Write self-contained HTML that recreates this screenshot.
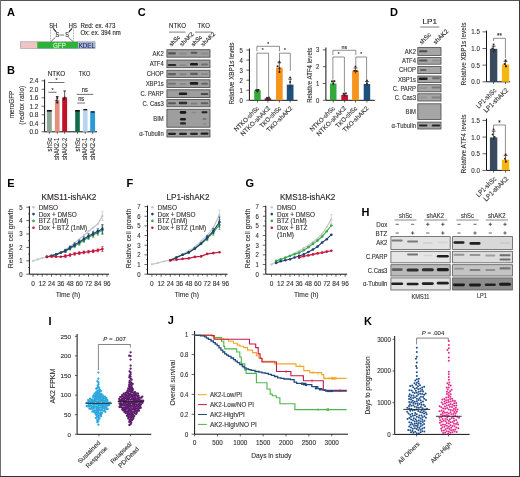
<!DOCTYPE html>
<html><head><meta charset="utf-8"><style>
html,body{margin:0;padding:0;background:#fff;}
svg{display:block;font-family:"Liberation Sans",sans-serif;filter:blur(0.45px);}
</style></head><body>
<svg width="520" height="477" viewBox="0 0 520 477" fill="#231f20">
<defs><filter id="bl" x="-50%" y="-100%" width="200%" height="300%"><feGaussianBlur stdDeviation="0.55"/></filter></defs>
<rect x="0" y="0" width="520" height="477" fill="#fff"/>
<text x="7" y="16" font-size="11" font-weight="bold" fill="#000">A</text>
<rect x="20.3" y="41.8" width="17" height="6.8" fill="#f0c4c2" />
<rect x="37.2" y="41.8" width="41" height="6.8" fill="#2fb23a" />
<rect x="78.1" y="41.8" width="17" height="6.8" fill="#a9b5d2" />
<rect x="20.3" y="41.8" width="74.8" height="6.8" fill="none" stroke="#8a8fa0" stroke-width="0.5"/>
<text x="59.4" y="47.6" font-size="6.6" text-anchor="middle" fill="#b4eea8" textLength="12.8" lengthAdjust="spacingAndGlyphs" stroke="#b4eea8" stroke-width="0.3">GFP</text>
<text x="86.8" y="47.6" font-size="6.6" text-anchor="middle" fill="#1f2f6b" textLength="16.2" lengthAdjust="spacingAndGlyphs" stroke="#1f2f6b" stroke-width="0.12">KDEL</text>
<text x="49.2" y="27.6" font-size="6.5" textLength="8.1" lengthAdjust="spacingAndGlyphs" stroke="#231f20" stroke-width="0.12">SH</text>
<text x="68.8" y="27.6" font-size="6.5" textLength="8.1" lengthAdjust="spacingAndGlyphs" stroke="#231f20" stroke-width="0.12">HS</text>
<text x="80.4" y="27.6" font-size="6.5" textLength="35" lengthAdjust="spacingAndGlyphs" stroke="#231f20" stroke-width="0.12">Red: ex. 473</text>
<text x="80.4" y="34.8" font-size="6.5" textLength="40.4" lengthAdjust="spacingAndGlyphs" stroke="#231f20" stroke-width="0.12">Ox: ex. 394 nm</text>
<line x1="50.6" y1="28.5" x2="50.6" y2="41.5" stroke="#333" stroke-width="0.5" stroke-dasharray="0.8 0.8"/>
<line x1="73.5" y1="28.5" x2="73.5" y2="41.5" stroke="#333" stroke-width="0.5" stroke-dasharray="0.8 0.8"/>
<text x="57.3" y="36.8" font-size="6.3" text-anchor="middle" textLength="3.7" lengthAdjust="spacingAndGlyphs" stroke="#231f20" stroke-width="0.12">S</text>
<text x="67" y="36.8" font-size="6.3" text-anchor="middle" textLength="3.7" lengthAdjust="spacingAndGlyphs" stroke="#231f20" stroke-width="0.12">S</text>
<line x1="53.2" y1="28.3" x2="56.2" y2="31.8" stroke="#231f20" stroke-width="1.1" />
<line x1="72" y1="28.3" x2="69" y2="31.8" stroke="#231f20" stroke-width="1.1" />
<line x1="59.5" y1="35" x2="64.2" y2="35" stroke="#231f20" stroke-width="0.6" />
<line x1="55.5" y1="37.2" x2="50.8" y2="41.8" stroke="#231f20" stroke-width="0.6" />
<line x1="68.3" y1="37.2" x2="73.3" y2="41.8" stroke="#231f20" stroke-width="0.6" />
<text x="6.9" y="73.8" font-size="11" font-weight="bold" fill="#000">B</text>
<text x="56.5" y="75.5" font-size="7" text-anchor="middle" textLength="17.5" lengthAdjust="spacingAndGlyphs" stroke="#231f20" stroke-width="0.12">NTKO</text>
<text x="84.6" y="75.5" font-size="7" text-anchor="middle" textLength="11.5" lengthAdjust="spacingAndGlyphs" stroke="#231f20" stroke-width="0.12">TKO</text>
<line x1="44.6" y1="79.5" x2="44.6" y2="131.8" stroke="#111" stroke-width="1.0" />
<line x1="44.6" y1="131.8" x2="97" y2="131.8" stroke="#111" stroke-width="1.0" />
<line x1="41.6" y1="131.8" x2="44.6" y2="131.8" stroke="#231f20" stroke-width="0.7" />
<text x="38.4" y="134.2" font-size="6.9" text-anchor="end" fill="#333" textLength="9" lengthAdjust="spacingAndGlyphs" stroke="#333" stroke-width="0.12">0.0</text>
<line x1="41.6" y1="123.3" x2="44.6" y2="123.3" stroke="#231f20" stroke-width="0.7" />
<text x="38.4" y="125.7" font-size="6.9" text-anchor="end" fill="#333" textLength="9" lengthAdjust="spacingAndGlyphs" stroke="#333" stroke-width="0.12">0.4</text>
<line x1="41.6" y1="114.8" x2="44.6" y2="114.8" stroke="#231f20" stroke-width="0.7" />
<text x="38.4" y="117.2" font-size="6.9" text-anchor="end" fill="#333" textLength="9" lengthAdjust="spacingAndGlyphs" stroke="#333" stroke-width="0.12">0.8</text>
<line x1="41.6" y1="106.3" x2="44.6" y2="106.3" stroke="#231f20" stroke-width="0.7" />
<text x="38.4" y="108.7" font-size="6.9" text-anchor="end" fill="#333" textLength="9" lengthAdjust="spacingAndGlyphs" stroke="#333" stroke-width="0.12">1.2</text>
<line x1="41.6" y1="97.8" x2="44.6" y2="97.8" stroke="#231f20" stroke-width="0.7" />
<text x="38.4" y="100.2" font-size="6.9" text-anchor="end" fill="#333" textLength="9" lengthAdjust="spacingAndGlyphs" stroke="#333" stroke-width="0.12">1.6</text>
<line x1="41.6" y1="89.3" x2="44.6" y2="89.3" stroke="#231f20" stroke-width="0.7" />
<text x="38.4" y="91.7" font-size="6.9" text-anchor="end" fill="#333" textLength="9" lengthAdjust="spacingAndGlyphs" stroke="#333" stroke-width="0.12">2.0</text>
<line x1="41.6" y1="80.8" x2="44.6" y2="80.8" stroke="#231f20" stroke-width="0.7" />
<text x="38.4" y="83.2" font-size="6.9" text-anchor="end" fill="#333" textLength="9" lengthAdjust="spacingAndGlyphs" stroke="#333" stroke-width="0.12">2.4</text>
<rect x="46.9" y="110.55" width="4.9" height="21.25" fill="#8fa596" />
<line x1="49.35" y1="131.8" x2="49.35" y2="133.8" stroke="#231f20" stroke-width="0.7" />
<rect x="54.9" y="99.93" width="4.7" height="31.88" fill="#e38f7e" />
<line x1="57.25" y1="131.8" x2="57.25" y2="133.8" stroke="#231f20" stroke-width="0.7" />
<rect x="62.2" y="97.38" width="4.9" height="34.43" fill="#c0122a" />
<line x1="64.65" y1="131.8" x2="64.65" y2="133.8" stroke="#231f20" stroke-width="0.7" />
<rect x="75.2" y="110.55" width="4.6" height="21.25" fill="#0f6b4b" />
<line x1="77.5" y1="131.8" x2="77.5" y2="133.8" stroke="#231f20" stroke-width="0.7" />
<rect x="82.9" y="109.7" width="4.7" height="22.1" fill="#b8d4ee" />
<line x1="85.25" y1="131.8" x2="85.25" y2="133.8" stroke="#231f20" stroke-width="0.7" />
<rect x="90.2" y="111.4" width="4.9" height="20.4" fill="#2c9ad6" />
<line x1="92.65" y1="131.8" x2="92.65" y2="133.8" stroke="#231f20" stroke-width="0.7" />
<rect x="46.9" y="110" width="4.9" height="1.6" fill="#111" />
<rect x="75.2" y="110" width="4.6" height="1.6" fill="#111" />
<rect x="83.4" y="109" width="3.8" height="1.3" fill="#111" />
<rect x="90.8" y="111.3" width="3.8" height="1.3" fill="#111" />
<line x1="57.25" y1="96.5" x2="57.25" y2="103.5" stroke="#111" stroke-width="0.7" />
<line x1="55.9" y1="96.5" x2="58.6" y2="96.5" stroke="#111" stroke-width="0.8" />
<circle cx="57.25" cy="98" r="1.1" fill="#222" />
<circle cx="57.25" cy="102.5" r="1.1" fill="#222" />
<circle cx="56.5" cy="100.3" r="0.9" fill="#222" />
<line x1="64.65" y1="91" x2="64.65" y2="98.5" stroke="#111" stroke-width="0.7" />
<line x1="63.3" y1="91" x2="66" y2="91" stroke="#111" stroke-width="0.8" />
<circle cx="64.65" cy="97.5" r="1" fill="#222" />
<circle cx="63.8" cy="99.5" r="0.9" fill="#222" />
<line x1="48.2" y1="82.5" x2="64.5" y2="82.5" stroke="#333" stroke-width="0.7" />
<text x="56.4" y="82.2" font-size="6" text-anchor="middle" textLength="2.05" lengthAdjust="spacingAndGlyphs" stroke="#231f20" stroke-width="0.12">*</text>
<line x1="48.4" y1="92.3" x2="56.5" y2="92.3" stroke="#333" stroke-width="0.7" />
<text x="52.4" y="91.6" font-size="6" text-anchor="middle" textLength="2.05" lengthAdjust="spacingAndGlyphs" stroke="#231f20" stroke-width="0.12">*</text>
<line x1="76.7" y1="94.4" x2="93.3" y2="94.4" stroke="#333" stroke-width="0.7" />
<text x="84.8" y="92.3" font-size="6.5" text-anchor="middle" textLength="6.04" lengthAdjust="spacingAndGlyphs" stroke="#231f20" stroke-width="0.12">ns</text>
<line x1="77.2" y1="103" x2="85" y2="103" stroke="#333" stroke-width="0.7" />
<text x="81.2" y="101.2" font-size="6.5" text-anchor="middle" textLength="6.04" lengthAdjust="spacingAndGlyphs" stroke="#231f20" stroke-width="0.12">ns</text>
<text x="14.2" y="104.5" font-size="6.6" text-anchor="middle" fill="#333" transform="rotate(-90 14.2 104.5)" textLength="27.7" lengthAdjust="spacingAndGlyphs" stroke="#333" stroke-width="0.12">meroGFP</text>
<text x="23.7" y="105.2" font-size="6.6" text-anchor="middle" fill="#333" transform="rotate(-90 23.7 105.2)" textLength="38.9" lengthAdjust="spacingAndGlyphs" stroke="#333" stroke-width="0.12">(red/ox ratio)</text>
<text x="51.6" y="137.8" font-size="6.6" text-anchor="end" fill="#333" transform="rotate(-90 51.6 137.8)" textLength="13.6" lengthAdjust="spacingAndGlyphs" stroke="#333" stroke-width="0.12">shSc</text>
<text x="59.5" y="137.8" font-size="6.6" text-anchor="end" fill="#333" transform="rotate(-90 59.5 137.8)" textLength="22.2" lengthAdjust="spacingAndGlyphs" stroke="#333" stroke-width="0.12">shAK2-1</text>
<text x="67" y="137.8" font-size="6.6" text-anchor="end" fill="#333" transform="rotate(-90 67 137.8)" textLength="22.2" lengthAdjust="spacingAndGlyphs" stroke="#333" stroke-width="0.12">shAK2-2</text>
<text x="79.8" y="137.8" font-size="6.6" text-anchor="end" fill="#333" transform="rotate(-90 79.8 137.8)" textLength="13.6" lengthAdjust="spacingAndGlyphs" stroke="#333" stroke-width="0.12">shSc</text>
<text x="87.5" y="137.8" font-size="6.6" text-anchor="end" fill="#333" transform="rotate(-90 87.5 137.8)" textLength="22.2" lengthAdjust="spacingAndGlyphs" stroke="#333" stroke-width="0.12">shAK2-1</text>
<text x="94.9" y="137.8" font-size="6.6" text-anchor="end" fill="#333" transform="rotate(-90 94.9 137.8)" textLength="22.2" lengthAdjust="spacingAndGlyphs" stroke="#333" stroke-width="0.12">shAK2-2</text>
<text x="137.8" y="15.6" font-size="11" font-weight="bold" fill="#000">C</text>
<text x="169" y="27.6" font-size="6.8" textLength="17" lengthAdjust="spacingAndGlyphs" stroke="#231f20" stroke-width="0.12">NTKO</text>
<text x="197.5" y="27.6" font-size="6.8" textLength="12.3" lengthAdjust="spacingAndGlyphs" stroke="#231f20" stroke-width="0.12">TKO</text>
<line x1="169" y1="32.1" x2="185.6" y2="32.1" stroke="#8a8a8a" stroke-width="1.1" />
<line x1="195.2" y1="32.1" x2="211.9" y2="32.1" stroke="#8a8a8a" stroke-width="1.1" />
<text x="171.5" y="46.7" font-size="6.0" transform="rotate(-45 171.5 46.7)" textLength="12.88" lengthAdjust="spacingAndGlyphs" stroke="#231f20" stroke-width="0.12">shSc</text>
<text x="181.9" y="46.7" font-size="6.0" transform="rotate(-45 181.9 46.7)" textLength="17.39" lengthAdjust="spacingAndGlyphs" stroke="#231f20" stroke-width="0.12">shAK2</text>
<text x="193.5" y="46.7" font-size="6.0" transform="rotate(-45 193.5 46.7)" textLength="12.88" lengthAdjust="spacingAndGlyphs" stroke="#231f20" stroke-width="0.12">shSc</text>
<text x="203.3" y="46.7" font-size="6.0" transform="rotate(-45 203.3 46.7)" textLength="17.39" lengthAdjust="spacingAndGlyphs" stroke="#231f20" stroke-width="0.12">shAK2</text>
<rect x="166.9" y="49.7" width="43.1" height="7.5" fill="#9e9e9e" stroke="#444" stroke-width="0.8"/>
<rect x="168" y="52.2" width="8" height="2.2" rx="1.1" fill="#151515" opacity="0.55" filter="url(#bl)"/>
<rect x="179" y="52.5" width="8" height="2" rx="1" fill="#151515" opacity="0.15" filter="url(#bl)"/>
<rect x="190.5" y="51.7" width="7" height="2.2" rx="1.1" fill="#151515" opacity="0.45" filter="url(#bl)"/>
<rect x="200.5" y="52.5" width="8" height="2" rx="1" fill="#151515" opacity="0.12" filter="url(#bl)"/>
<text x="163.7" y="55.85" font-size="6.7" text-anchor="end" fill="#333" textLength="11.14" lengthAdjust="spacingAndGlyphs" stroke="#333" stroke-width="0.12">AK2</text>
<rect x="166.9" y="60" width="43.1" height="7.7" fill="#9e9e9e" stroke="#444" stroke-width="0.8"/>
<rect x="167.75" y="63.9" width="8.5" height="2.2" rx="1.1" fill="#151515" opacity="0.85" filter="url(#bl)"/>
<rect x="179.5" y="64.3" width="7" height="1.8" rx="0.9" fill="#151515" opacity="0.15" filter="url(#bl)"/>
<rect x="190" y="63.1" width="8" height="2.4" rx="1.2" fill="#151515" opacity="0.95" filter="url(#bl)"/>
<rect x="201" y="63.6" width="7" height="2" rx="1" fill="#151515" opacity="0.35" filter="url(#bl)"/>
<text x="163.7" y="66.25" font-size="6.7" text-anchor="end" fill="#333" textLength="13.98" lengthAdjust="spacingAndGlyphs" stroke="#333" stroke-width="0.12">ATF4</text>
<rect x="166.9" y="70.2" width="43.1" height="7.2" fill="#9e9e9e" stroke="#444" stroke-width="0.8"/>
<rect x="168" y="73.1" width="8" height="2.2" rx="1.1" fill="#151515" opacity="0.45" filter="url(#bl)"/>
<rect x="179.5" y="73.2" width="7" height="2" rx="1" fill="#151515" opacity="0.2" filter="url(#bl)"/>
<rect x="190" y="72.7" width="8" height="2.2" rx="1.1" fill="#151515" opacity="0.45" filter="url(#bl)"/>
<rect x="201" y="73" width="7" height="2" rx="1" fill="#151515" opacity="0.15" filter="url(#bl)"/>
<text x="163.7" y="76.2" font-size="6.7" text-anchor="end" fill="#333" textLength="17.03" lengthAdjust="spacingAndGlyphs" stroke="#333" stroke-width="0.12">CHOP</text>
<rect x="166.9" y="79.8" width="43.1" height="7.6" fill="#9e9e9e" stroke="#444" stroke-width="0.8"/>
<rect x="168" y="82.8" width="8" height="2" rx="1" fill="#151515" opacity="0.3" filter="url(#bl)"/>
<rect x="179.5" y="83" width="7" height="2" rx="1" fill="#151515" opacity="0.15" filter="url(#bl)"/>
<rect x="189.75" y="82.1" width="8.5" height="2.6" rx="1.3" fill="#151515" opacity="0.95" filter="url(#bl)"/>
<rect x="201" y="82.8" width="7" height="2" rx="1" fill="#151515" opacity="0.4" filter="url(#bl)"/>
<text x="163.7" y="86" font-size="6.7" text-anchor="end" fill="#333" textLength="18.02" lengthAdjust="spacingAndGlyphs" stroke="#333" stroke-width="0.12">XBP1s</text>
<rect x="166.9" y="89.8" width="43.1" height="7.8" fill="#9e9e9e" stroke="#444" stroke-width="0.8"/>
<rect x="178.75" y="92.6" width="8.5" height="2.4" rx="1.2" fill="#151515" opacity="0.95" filter="url(#bl)"/>
<rect x="200.75" y="93.1" width="7.5" height="1.8" rx="0.9" fill="#151515" opacity="0.6" filter="url(#bl)"/>
<text x="163.7" y="96.1" font-size="6.7" text-anchor="end" fill="#333" textLength="23.15" lengthAdjust="spacingAndGlyphs" stroke="#333" stroke-width="0.12">C. PARP</text>
<rect x="166.9" y="99.6" width="43.1" height="7.2" fill="#9e9e9e" stroke="#444" stroke-width="0.8"/>
<rect x="168" y="102.2" width="8" height="2" rx="1" fill="#151515" opacity="0.5" filter="url(#bl)"/>
<rect x="178.75" y="101.8" width="8.5" height="2.4" rx="1.2" fill="#151515" opacity="0.8" filter="url(#bl)"/>
<rect x="190.5" y="102.7" width="7" height="1.8" rx="0.9" fill="#151515" opacity="0.25" filter="url(#bl)"/>
<rect x="200.75" y="102.2" width="7.5" height="2" rx="1" fill="#151515" opacity="0.45" filter="url(#bl)"/>
<text x="163.7" y="105.6" font-size="6.7" text-anchor="end" fill="#333" textLength="21.3" lengthAdjust="spacingAndGlyphs" stroke="#333" stroke-width="0.12">C. Cas3</text>
<rect x="166.9" y="109.2" width="43.1" height="18" fill="#9e9e9e" stroke="#444" stroke-width="0.8"/>
<rect x="179.75" y="111.1" width="6.5" height="2.6" rx="1.3" fill="#151515" opacity="1.0" filter="url(#bl)"/>
<rect x="180" y="118" width="6" height="2.4" rx="1.2" fill="#151515" opacity="0.95" filter="url(#bl)"/>
<rect x="180" y="122.3" width="6" height="2.2" rx="1.1" fill="#151515" opacity="0.9" filter="url(#bl)"/>
<rect x="191.5" y="111.85" width="5" height="1.5" rx="0.75" fill="#151515" opacity="0.15" filter="url(#bl)"/>
<rect x="201.5" y="111.3" width="6" height="2" rx="1" fill="#151515" opacity="0.9" filter="url(#bl)"/>
<rect x="202.5" y="118.25" width="4" height="1.5" rx="0.75" fill="#151515" opacity="0.35" filter="url(#bl)"/>
<rect x="202.5" y="123.4" width="4" height="1.2" rx="0.6" fill="#151515" opacity="0.2" filter="url(#bl)"/>
<text x="163.7" y="120.6" font-size="6.7" text-anchor="end" fill="#333" textLength="10.48" lengthAdjust="spacingAndGlyphs" stroke="#333" stroke-width="0.12">BIM</text>
<rect x="166.9" y="129.8" width="43.1" height="7.2" fill="#9e9e9e" stroke="#444" stroke-width="0.8"/>
<rect x="168" y="132.7" width="8" height="2.2" rx="1.1" fill="#151515" opacity="0.9" filter="url(#bl)"/>
<rect x="179" y="132.7" width="8" height="2.2" rx="1.1" fill="#151515" opacity="0.9" filter="url(#bl)"/>
<rect x="190" y="132.7" width="8" height="2.2" rx="1.1" fill="#151515" opacity="0.85" filter="url(#bl)"/>
<rect x="200.5" y="132.4" width="8" height="2.4" rx="1.2" fill="#151515" opacity="0.9" filter="url(#bl)"/>
<text x="163.7" y="135.8" font-size="6.7" text-anchor="end" fill="#333" textLength="24.49" lengthAdjust="spacingAndGlyphs" stroke="#333" stroke-width="0.12">α-Tubulin</text>
<line x1="249.4" y1="48.5" x2="249.4" y2="100.3" stroke="#111" stroke-width="1.0" />
<line x1="249.4" y1="100.3" x2="297.5" y2="100.3" stroke="#111" stroke-width="1.0" />
<line x1="246.4" y1="100.3" x2="249.4" y2="100.3" stroke="#231f20" stroke-width="0.7" />
<text x="242.8" y="102.75" font-size="6.8" text-anchor="end" fill="#333" textLength="3.33" lengthAdjust="spacingAndGlyphs" stroke="#333" stroke-width="0.12">0</text>
<line x1="246.4" y1="90.25" x2="249.4" y2="90.25" stroke="#231f20" stroke-width="0.7" />
<text x="242.8" y="92.7" font-size="6.8" text-anchor="end" fill="#333" textLength="3.33" lengthAdjust="spacingAndGlyphs" stroke="#333" stroke-width="0.12">1</text>
<line x1="246.4" y1="80.2" x2="249.4" y2="80.2" stroke="#231f20" stroke-width="0.7" />
<text x="242.8" y="82.65" font-size="6.8" text-anchor="end" fill="#333" textLength="3.33" lengthAdjust="spacingAndGlyphs" stroke="#333" stroke-width="0.12">2</text>
<line x1="246.4" y1="70.15" x2="249.4" y2="70.15" stroke="#231f20" stroke-width="0.7" />
<text x="242.8" y="72.6" font-size="6.8" text-anchor="end" fill="#333" textLength="3.33" lengthAdjust="spacingAndGlyphs" stroke="#333" stroke-width="0.12">3</text>
<line x1="246.4" y1="60.1" x2="249.4" y2="60.1" stroke="#231f20" stroke-width="0.7" />
<text x="242.8" y="62.55" font-size="6.8" text-anchor="end" fill="#333" textLength="3.33" lengthAdjust="spacingAndGlyphs" stroke="#333" stroke-width="0.12">4</text>
<line x1="246.4" y1="50.05" x2="249.4" y2="50.05" stroke="#231f20" stroke-width="0.7" />
<text x="242.8" y="52.5" font-size="6.8" text-anchor="end" fill="#333" textLength="3.33" lengthAdjust="spacingAndGlyphs" stroke="#333" stroke-width="0.12">5</text>
<rect x="254.2" y="90.25" width="6.5" height="10.05" fill="#35a83a" />
<line x1="257.45" y1="100.3" x2="257.45" y2="102.5" stroke="#231f20" stroke-width="0.7" />
<rect x="264.7" y="98.29" width="6.5" height="2.01" fill="#6e1b2c" />
<line x1="267.95" y1="100.3" x2="267.95" y2="102.5" stroke="#231f20" stroke-width="0.7" />
<rect x="276" y="67.64" width="6.7" height="32.66" fill="#f7941d" />
<line x1="279.35" y1="100.3" x2="279.35" y2="102.5" stroke="#231f20" stroke-width="0.7" />
<rect x="286.8" y="84.62" width="6.7" height="15.68" fill="#1f4f7d" />
<line x1="290.15" y1="100.3" x2="290.15" y2="102.5" stroke="#231f20" stroke-width="0.7" />
<text x="234.24" y="73.5" font-size="6.6" text-anchor="middle" fill="#333" transform="rotate(-90 234.24 73.5)" textLength="62" lengthAdjust="spacingAndGlyphs" stroke="#333" stroke-width="0.12">Relative XBP1s levels</text>
<text x="259.5" y="108.8" font-size="6.3" text-anchor="end" fill="#333" transform="rotate(-45 259.5 108.8)" textLength="32.5" lengthAdjust="spacingAndGlyphs" stroke="#333" stroke-width="0.12">NTKO-shSc</text>
<text x="270.6" y="108.8" font-size="6.3" text-anchor="end" fill="#333" transform="rotate(-45 270.6 108.8)" textLength="39" lengthAdjust="spacingAndGlyphs" stroke="#333" stroke-width="0.12">NTKO-shAK2</text>
<text x="281.6" y="108.8" font-size="6.3" text-anchor="end" fill="#333" transform="rotate(-45 281.6 108.8)" textLength="27.5" lengthAdjust="spacingAndGlyphs" stroke="#333" stroke-width="0.12">TKO-shSc</text>
<text x="292.8" y="108.8" font-size="6.3" text-anchor="end" fill="#333" transform="rotate(-45 292.8 108.8)" textLength="33.5" lengthAdjust="spacingAndGlyphs" stroke="#333" stroke-width="0.12">TKO-shAK2</text>
<line x1="257.45" y1="89.4" x2="257.45" y2="92.2" stroke="#222" stroke-width="0.7" />
<line x1="255.55" y1="89.6" x2="259.35" y2="89.6" stroke="#222" stroke-width="0.8" />
<circle cx="256.25" cy="90.3" r="1" fill="#2a2a2a" />
<circle cx="258.45" cy="90" r="1" fill="#2a2a2a" />
<circle cx="257.45" cy="91.6" r="1" fill="#2a2a2a" />
<line x1="267.95" y1="97.2" x2="267.95" y2="99.5" stroke="#222" stroke-width="0.7" />
<line x1="266.05" y1="97.4" x2="269.85" y2="97.4" stroke="#222" stroke-width="0.8" />
<circle cx="267.15" cy="97.9" r="1" fill="#2a2a2a" />
<circle cx="268.95" cy="97.6" r="1" fill="#2a2a2a" />
<line x1="279.35" y1="62.6" x2="279.35" y2="72.8" stroke="#222" stroke-width="0.7" />
<line x1="277.45" y1="62.8" x2="281.25" y2="62.8" stroke="#222" stroke-width="0.8" />
<circle cx="279.35" cy="61.8" r="1" fill="#3a1010" />
<circle cx="277.55" cy="66.3" r="1" fill="#3a1010" />
<circle cx="279.55" cy="68.2" r="1" fill="#3a1010" />
<circle cx="279.45" cy="72" r="1" fill="#3a1010" />
<line x1="290.15" y1="78.9" x2="290.15" y2="88.5" stroke="#222" stroke-width="0.7" />
<line x1="288.25" y1="79.1" x2="292.05" y2="79.1" stroke="#222" stroke-width="0.8" />
<circle cx="290.15" cy="77.6" r="1" fill="#2a2a2a" />
<circle cx="290.15" cy="82" r="1" fill="#2a2a2a" />
<path d="M256.9 51.3 V46.3 H279.5 V51.3" fill="none" stroke="#444" stroke-width="0.6" />
<text x="268.2" y="45.6" font-size="5.5" text-anchor="middle" textLength="1.88" lengthAdjust="spacingAndGlyphs" stroke="#231f20" stroke-width="0.12">*</text>
<path d="M256.9 89 V53.2 H268.6 V96.5" fill="none" stroke="#444" stroke-width="0.6" />
<text x="262.7" y="52.4" font-size="5.5" text-anchor="middle" textLength="1.88" lengthAdjust="spacingAndGlyphs" stroke="#231f20" stroke-width="0.12">*</text>
<path d="M279.5 61.2 V53.2 H290.3 V70.8" fill="none" stroke="#444" stroke-width="0.6" />
<text x="285" y="52.4" font-size="5.5" text-anchor="middle" textLength="1.88" lengthAdjust="spacingAndGlyphs" stroke="#231f20" stroke-width="0.12">*</text>
<line x1="325.9" y1="47.5" x2="325.9" y2="100.3" stroke="#111" stroke-width="1.0" />
<line x1="325.9" y1="100.3" x2="374.8" y2="100.3" stroke="#111" stroke-width="1.0" />
<line x1="322.9" y1="100.3" x2="325.9" y2="100.3" stroke="#231f20" stroke-width="0.7" />
<text x="319.3" y="102.75" font-size="6.8" text-anchor="end" fill="#333" textLength="3.33" lengthAdjust="spacingAndGlyphs" stroke="#333" stroke-width="0.12">0</text>
<line x1="322.9" y1="83.5" x2="325.9" y2="83.5" stroke="#231f20" stroke-width="0.7" />
<text x="319.3" y="85.95" font-size="6.8" text-anchor="end" fill="#333" textLength="3.33" lengthAdjust="spacingAndGlyphs" stroke="#333" stroke-width="0.12">1</text>
<line x1="322.9" y1="66.7" x2="325.9" y2="66.7" stroke="#231f20" stroke-width="0.7" />
<text x="319.3" y="69.15" font-size="6.8" text-anchor="end" fill="#333" textLength="3.33" lengthAdjust="spacingAndGlyphs" stroke="#333" stroke-width="0.12">2</text>
<line x1="322.9" y1="49.9" x2="325.9" y2="49.9" stroke="#231f20" stroke-width="0.7" />
<text x="319.3" y="52.35" font-size="6.8" text-anchor="end" fill="#333" textLength="3.33" lengthAdjust="spacingAndGlyphs" stroke="#333" stroke-width="0.12">3</text>
<rect x="330" y="83.5" width="6.5" height="16.8" fill="#35a83a" />
<line x1="333.25" y1="100.3" x2="333.25" y2="102.5" stroke="#231f20" stroke-width="0.7" />
<rect x="341.3" y="94.92" width="6.7" height="5.38" fill="#c0152f" />
<line x1="344.65" y1="100.3" x2="344.65" y2="102.5" stroke="#231f20" stroke-width="0.7" />
<rect x="352.1" y="70.73" width="6.8" height="29.57" fill="#f7941d" />
<line x1="355.5" y1="100.3" x2="355.5" y2="102.5" stroke="#231f20" stroke-width="0.7" />
<rect x="363.7" y="84" width="6.5" height="16.3" fill="#1f4f7d" />
<line x1="366.95" y1="100.3" x2="366.95" y2="102.5" stroke="#231f20" stroke-width="0.7" />
<text x="311.74" y="75.3" font-size="6.6" text-anchor="middle" fill="#333" transform="rotate(-90 311.74 75.3)" textLength="55" lengthAdjust="spacingAndGlyphs" stroke="#333" stroke-width="0.12">Relative ATF4 levels</text>
<text x="335.3" y="108.8" font-size="6.3" text-anchor="end" fill="#333" transform="rotate(-45 335.3 108.8)" textLength="32.5" lengthAdjust="spacingAndGlyphs" stroke="#333" stroke-width="0.12">NTKO-shSc</text>
<text x="346.6" y="108.8" font-size="6.3" text-anchor="end" fill="#333" transform="rotate(-45 346.6 108.8)" textLength="39" lengthAdjust="spacingAndGlyphs" stroke="#333" stroke-width="0.12">NTKO-shAK2</text>
<text x="357.5" y="108.8" font-size="6.3" text-anchor="end" fill="#333" transform="rotate(-45 357.5 108.8)" textLength="27.5" lengthAdjust="spacingAndGlyphs" stroke="#333" stroke-width="0.12">TKO-shSc</text>
<text x="368.9" y="108.8" font-size="6.3" text-anchor="end" fill="#333" transform="rotate(-45 368.9 108.8)" textLength="33.5" lengthAdjust="spacingAndGlyphs" stroke="#333" stroke-width="0.12">TKO-shAK2</text>
<line x1="333.25" y1="80.8" x2="333.25" y2="85.5" stroke="#222" stroke-width="0.7" />
<line x1="331.35" y1="81" x2="335.15" y2="81" stroke="#222" stroke-width="0.8" />
<circle cx="331.95" cy="81.6" r="1" fill="#2a2a2a" />
<circle cx="334.45" cy="81.3" r="1" fill="#2a2a2a" />
<circle cx="333.25" cy="83.6" r="1" fill="#2a2a2a" />
<line x1="344.65" y1="93" x2="344.65" y2="96.5" stroke="#222" stroke-width="0.7" />
<line x1="342.75" y1="93.2" x2="346.55" y2="93.2" stroke="#222" stroke-width="0.8" />
<circle cx="343.65" cy="94" r="1" fill="#2a2a2a" />
<circle cx="345.85" cy="93.6" r="1" fill="#2a2a2a" />
<circle cx="344.65" cy="95.6" r="1" fill="#2a2a2a" />
<line x1="355.5" y1="67.8" x2="355.5" y2="73.5" stroke="#222" stroke-width="0.7" />
<line x1="353.6" y1="68" x2="357.4" y2="68" stroke="#222" stroke-width="0.8" />
<circle cx="355.5" cy="66.6" r="1" fill="#3a1010" />
<circle cx="354.3" cy="70.8" r="1" fill="#3a1010" />
<circle cx="356.8" cy="71" r="1" fill="#3a1010" />
<line x1="366.95" y1="81.4" x2="366.95" y2="86" stroke="#222" stroke-width="0.7" />
<line x1="365.05" y1="81.6" x2="368.85" y2="81.6" stroke="#222" stroke-width="0.8" />
<circle cx="366.95" cy="80.6" r="1" fill="#2a2a2a" />
<circle cx="366.95" cy="83.4" r="1" fill="#2a2a2a" />
<path d="M332.9 55 V50.3 H355.8 V55" fill="none" stroke="#444" stroke-width="0.6" />
<text x="344.4" y="48.5" font-size="6" text-anchor="middle" textLength="5.58" lengthAdjust="spacingAndGlyphs" stroke="#231f20" stroke-width="0.12">ns</text>
<path d="M332.9 79.5 V57 H344.4 V92" fill="none" stroke="#444" stroke-width="0.6" />
<text x="338.7" y="56.3" font-size="5.5" text-anchor="middle" textLength="1.88" lengthAdjust="spacingAndGlyphs" stroke="#231f20" stroke-width="0.12">*</text>
<path d="M355.8 65.5 V57 H366.6 V79.5" fill="none" stroke="#444" stroke-width="0.6" />
<text x="361.2" y="56.3" font-size="5.5" text-anchor="middle" textLength="1.88" lengthAdjust="spacingAndGlyphs" stroke="#231f20" stroke-width="0.12">*</text>
<text x="390.1" y="15.8" font-size="11" font-weight="bold" fill="#000">D</text>
<text x="429.7" y="24.4" font-size="7.5" text-anchor="middle" textLength="14.6" lengthAdjust="spacingAndGlyphs" stroke="#231f20" stroke-width="0.12">LP1</text>
<line x1="420.2" y1="27" x2="439.3" y2="27" stroke="#8a8a8a" stroke-width="1.1" />
<text x="421.7" y="44.8" font-size="6.3" transform="rotate(-45 421.7 44.8)" textLength="13.7" lengthAdjust="spacingAndGlyphs" stroke="#231f20" stroke-width="0.12">shSc</text>
<text x="435.6" y="44.8" font-size="6.3" transform="rotate(-45 435.6 44.8)" textLength="18.5" lengthAdjust="spacingAndGlyphs" stroke="#231f20" stroke-width="0.12">shAK2</text>
<rect x="417.8" y="47.6" width="23.2" height="7.8" fill="#a6a6a6" stroke="#4a4a4a" stroke-width="0.8"/>
<rect x="418.95" y="50.2" width="8.5" height="2" rx="1" fill="#151515" opacity="0.6" filter="url(#bl)"/>
<text x="416" y="53.9" font-size="6.7" text-anchor="end" fill="#333" textLength="11.14" lengthAdjust="spacingAndGlyphs" stroke="#333" stroke-width="0.12">AK2</text>
<rect x="417.8" y="57.6" width="23.2" height="6.6" fill="#a6a6a6" stroke="#4a4a4a" stroke-width="0.8"/>
<rect x="418.95" y="59.6" width="8.5" height="1.8" rx="0.9" fill="#151515" opacity="0.55" filter="url(#bl)"/>
<rect x="432" y="59.8" width="8" height="1.6" rx="0.8" fill="#151515" opacity="0.15" filter="url(#bl)"/>
<text x="416" y="63.3" font-size="6.7" text-anchor="end" fill="#333" textLength="13.98" lengthAdjust="spacingAndGlyphs" stroke="#333" stroke-width="0.12">ATF4</text>
<rect x="417.8" y="66.4" width="23.2" height="7.2" fill="#a6a6a6" stroke="#4a4a4a" stroke-width="0.8"/>
<rect x="419.95" y="69.1" width="6.5" height="1.8" rx="0.9" fill="#151515" opacity="0.45" filter="url(#bl)"/>
<text x="416" y="72.4" font-size="6.7" text-anchor="end" fill="#333" textLength="17.03" lengthAdjust="spacingAndGlyphs" stroke="#333" stroke-width="0.12">CHOP</text>
<rect x="417.8" y="76" width="23.2" height="6.6" fill="#a6a6a6" stroke="#4a4a4a" stroke-width="0.8"/>
<rect x="418.7" y="77.4" width="9" height="2.6" rx="1.3" fill="#151515" opacity="0.95" filter="url(#bl)"/>
<rect x="432" y="77.3" width="8" height="2" rx="1" fill="#151515" opacity="0.4" filter="url(#bl)"/>
<text x="416" y="81.7" font-size="6.7" text-anchor="end" fill="#333" textLength="18.02" lengthAdjust="spacingAndGlyphs" stroke="#333" stroke-width="0.12">XBP1s</text>
<rect x="417.8" y="84.7" width="23.2" height="7.1" fill="#a6a6a6" stroke="#4a4a4a" stroke-width="0.8"/>
<rect x="419.2" y="87.2" width="8" height="1.6" rx="0.8" fill="#151515" opacity="0.12" filter="url(#bl)"/>
<rect x="431.5" y="86.6" width="9" height="2" rx="1" fill="#151515" opacity="0.3" filter="url(#bl)"/>
<text x="416" y="90.65" font-size="6.7" text-anchor="end" fill="#333" textLength="23.15" lengthAdjust="spacingAndGlyphs" stroke="#333" stroke-width="0.12">C. PARP</text>
<rect x="417.8" y="93.8" width="23.2" height="7.2" fill="#a6a6a6" stroke="#4a4a4a" stroke-width="0.8"/>
<rect x="419.2" y="96.4" width="8" height="1.8" rx="0.9" fill="#151515" opacity="0.12" filter="url(#bl)"/>
<rect x="431.5" y="96.5" width="9" height="2" rx="1" fill="#151515" opacity="0.25" filter="url(#bl)"/>
<text x="416" y="99.8" font-size="6.7" text-anchor="end" fill="#333" textLength="21.3" lengthAdjust="spacingAndGlyphs" stroke="#333" stroke-width="0.12">C. Cas3</text>
<rect x="417.8" y="103.8" width="23.2" height="15.6" fill="#a6a6a6" stroke="#4a4a4a" stroke-width="0.8"/>
<text x="416" y="114" font-size="6.7" text-anchor="end" fill="#333" textLength="10.48" lengthAdjust="spacingAndGlyphs" stroke="#333" stroke-width="0.12">BIM</text>
<rect x="417.8" y="122.1" width="23.2" height="6.9" fill="#a6a6a6" stroke="#4a4a4a" stroke-width="0.8"/>
<rect x="418.95" y="124.4" width="8.5" height="2.2" rx="1.1" fill="#151515" opacity="0.9" filter="url(#bl)"/>
<rect x="431.75" y="124.4" width="8.5" height="2.2" rx="1.1" fill="#151515" opacity="0.9" filter="url(#bl)"/>
<text x="416" y="127.95" font-size="6.7" text-anchor="end" fill="#333" textLength="24.49" lengthAdjust="spacingAndGlyphs" stroke="#333" stroke-width="0.12">α-Tubulin</text>
<line x1="486.5" y1="30.5" x2="486.5" y2="81.8" stroke="#111" stroke-width="1.0" />
<line x1="486.5" y1="81.8" x2="510" y2="81.8" stroke="#111" stroke-width="1.0" />
<line x1="482.5" y1="81.8" x2="486.5" y2="81.8" stroke="#231f20" stroke-width="0.7" />
<text x="479.9" y="84.32" font-size="7.0" text-anchor="end" fill="#333" textLength="8.56" lengthAdjust="spacingAndGlyphs" stroke="#333" stroke-width="0.12">0.0</text>
<line x1="482.5" y1="65.15" x2="486.5" y2="65.15" stroke="#231f20" stroke-width="0.7" />
<text x="479.9" y="67.67" font-size="7.0" text-anchor="end" fill="#333" textLength="8.56" lengthAdjust="spacingAndGlyphs" stroke="#333" stroke-width="0.12">0.5</text>
<line x1="482.5" y1="48.5" x2="486.5" y2="48.5" stroke="#231f20" stroke-width="0.7" />
<text x="479.9" y="51.02" font-size="7.0" text-anchor="end" fill="#333" textLength="8.56" lengthAdjust="spacingAndGlyphs" stroke="#333" stroke-width="0.12">1.0</text>
<line x1="482.5" y1="31.85" x2="486.5" y2="31.85" stroke="#231f20" stroke-width="0.7" />
<text x="479.9" y="34.37" font-size="7.0" text-anchor="end" fill="#333" textLength="8.56" lengthAdjust="spacingAndGlyphs" stroke="#333" stroke-width="0.12">1.5</text>
<rect x="489.9" y="48.83" width="7.4" height="32.97" fill="#3a4a5e" />
<line x1="493.6" y1="81.8" x2="493.6" y2="84" stroke="#231f20" stroke-width="0.7" />
<rect x="501.9" y="64.48" width="7.3" height="17.32" fill="#f5b70f" />
<line x1="505.55" y1="81.8" x2="505.55" y2="84" stroke="#231f20" stroke-width="0.7" />
<text x="466.02" y="54" font-size="7.4" text-anchor="middle" fill="#333" transform="rotate(-90 466.02 54)" textLength="63" lengthAdjust="spacingAndGlyphs" stroke="#333" stroke-width="0.12">Relative XBP1s levels</text>
<text x="496.8" y="90.8" font-size="6.8" text-anchor="end" fill="#333" transform="rotate(-45 496.8 90.8)" textLength="25.5" lengthAdjust="spacingAndGlyphs" stroke="#333" stroke-width="0.12">LP1-shSc</text>
<text x="508.6" y="90.8" font-size="6.8" text-anchor="end" fill="#333" transform="rotate(-45 508.6 90.8)" textLength="31.5" lengthAdjust="spacingAndGlyphs" stroke="#333" stroke-width="0.12">LP1-shAK2</text>
<line x1="493.6" y1="46" x2="493.6" y2="53" stroke="#222" stroke-width="0.7" />
<line x1="491.7" y1="46.2" x2="495.5" y2="46.2" stroke="#222" stroke-width="0.8" />
<circle cx="493.6" cy="44.6" r="1" fill="#2a2a2a" />
<circle cx="492.4" cy="48.6" r="1" fill="#2a2a2a" />
<circle cx="494.6" cy="50.2" r="1" fill="#2a2a2a" />
<line x1="505.55" y1="61.2" x2="505.55" y2="67.5" stroke="#222" stroke-width="0.7" />
<line x1="503.65" y1="61.4" x2="507.45" y2="61.4" stroke="#222" stroke-width="0.8" />
<circle cx="505.55" cy="60.2" r="1" fill="#3a1a10" />
<circle cx="504.55" cy="64" r="1" fill="#3a1a10" />
<circle cx="506.15" cy="66.2" r="1" fill="#3a1a10" />
<path d="M493.5 41 V38.3 H505.4 V58" fill="none" stroke="#444" stroke-width="0.6" />
<text x="499.5" y="38.2" font-size="7" text-anchor="middle" textLength="4.79" lengthAdjust="spacingAndGlyphs" stroke="#231f20" stroke-width="0.12">**</text>
<line x1="486.5" y1="118.5" x2="486.5" y2="170.4" stroke="#111" stroke-width="1.0" />
<line x1="486.5" y1="170.4" x2="510" y2="170.4" stroke="#111" stroke-width="1.0" />
<line x1="482.5" y1="170.4" x2="486.5" y2="170.4" stroke="#231f20" stroke-width="0.7" />
<text x="479.9" y="172.92" font-size="7.0" text-anchor="end" fill="#333" textLength="8.56" lengthAdjust="spacingAndGlyphs" stroke="#333" stroke-width="0.12">0.0</text>
<line x1="482.5" y1="153.75" x2="486.5" y2="153.75" stroke="#231f20" stroke-width="0.7" />
<text x="479.9" y="156.27" font-size="7.0" text-anchor="end" fill="#333" textLength="8.56" lengthAdjust="spacingAndGlyphs" stroke="#333" stroke-width="0.12">0.5</text>
<line x1="482.5" y1="137.1" x2="486.5" y2="137.1" stroke="#231f20" stroke-width="0.7" />
<text x="479.9" y="139.62" font-size="7.0" text-anchor="end" fill="#333" textLength="8.56" lengthAdjust="spacingAndGlyphs" stroke="#333" stroke-width="0.12">1.0</text>
<line x1="482.5" y1="120.45" x2="486.5" y2="120.45" stroke="#231f20" stroke-width="0.7" />
<text x="479.9" y="122.97" font-size="7.0" text-anchor="end" fill="#333" textLength="8.56" lengthAdjust="spacingAndGlyphs" stroke="#333" stroke-width="0.12">1.5</text>
<rect x="489.9" y="137.43" width="7.4" height="32.97" fill="#3a4a5e" />
<line x1="493.6" y1="170.4" x2="493.6" y2="172.6" stroke="#231f20" stroke-width="0.7" />
<rect x="501.9" y="159.74" width="7.3" height="10.66" fill="#f5b70f" />
<line x1="505.55" y1="170.4" x2="505.55" y2="172.6" stroke="#231f20" stroke-width="0.7" />
<text x="466.02" y="144" font-size="7.4" text-anchor="middle" fill="#333" transform="rotate(-90 466.02 144)" textLength="59" lengthAdjust="spacingAndGlyphs" stroke="#333" stroke-width="0.12">Relative ATF4 levels</text>
<text x="496.8" y="179.4" font-size="6.8" text-anchor="end" fill="#333" transform="rotate(-45 496.8 179.4)" textLength="25.5" lengthAdjust="spacingAndGlyphs" stroke="#333" stroke-width="0.12">LP1-shSc</text>
<text x="508.6" y="179.4" font-size="6.8" text-anchor="end" fill="#333" transform="rotate(-45 508.6 179.4)" textLength="31.5" lengthAdjust="spacingAndGlyphs" stroke="#333" stroke-width="0.12">LP1-shAK2</text>
<line x1="493.6" y1="131" x2="493.6" y2="140" stroke="#222" stroke-width="0.7" />
<line x1="491.7" y1="131.2" x2="495.5" y2="131.2" stroke="#222" stroke-width="0.8" />
<circle cx="493.6" cy="129.6" r="1" fill="#2a2a2a" />
<circle cx="492.6" cy="134.6" r="1" fill="#2a2a2a" />
<circle cx="494.6" cy="137" r="1" fill="#2a2a2a" />
<line x1="505.55" y1="155.4" x2="505.55" y2="163" stroke="#222" stroke-width="0.7" />
<line x1="503.65" y1="155.6" x2="507.45" y2="155.6" stroke="#222" stroke-width="0.8" />
<circle cx="505.55" cy="154.2" r="1" fill="#5a1a10" />
<circle cx="504.95" cy="158.8" r="1" fill="#5a1a10" />
<circle cx="506.15" cy="161.4" r="1" fill="#5a1a10" />
<path d="M493.5 129 V125 H505.4 V153" fill="none" stroke="#444" stroke-width="0.6" />
<text x="499.5" y="124.8" font-size="7" text-anchor="middle" textLength="2.4" lengthAdjust="spacingAndGlyphs" stroke="#231f20" stroke-width="0.12">*</text>
<text x="7.3" y="186.7" font-size="11" font-weight="bold" fill="#000">E</text>
<line x1="29.4" y1="206.2" x2="29.4" y2="274.2" stroke="#111" stroke-width="1.0" />
<line x1="29.4" y1="274.2" x2="109.02" y2="274.2" stroke="#111" stroke-width="1.0" />
<line x1="26.4" y1="274.2" x2="29.4" y2="274.2" stroke="#231f20" stroke-width="0.7" />
<text x="22.5" y="276.6" font-size="6.8" text-anchor="end" fill="#333" textLength="3.33" lengthAdjust="spacingAndGlyphs" stroke="#333" stroke-width="0.12">0</text>
<line x1="26.4" y1="260.8" x2="29.4" y2="260.8" stroke="#231f20" stroke-width="0.7" />
<text x="22.5" y="263.2" font-size="6.8" text-anchor="end" fill="#333" textLength="3.33" lengthAdjust="spacingAndGlyphs" stroke="#333" stroke-width="0.12">1</text>
<line x1="26.4" y1="247.4" x2="29.4" y2="247.4" stroke="#231f20" stroke-width="0.7" />
<text x="22.5" y="249.8" font-size="6.8" text-anchor="end" fill="#333" textLength="3.33" lengthAdjust="spacingAndGlyphs" stroke="#333" stroke-width="0.12">2</text>
<line x1="26.4" y1="234" x2="29.4" y2="234" stroke="#231f20" stroke-width="0.7" />
<text x="22.5" y="236.4" font-size="6.8" text-anchor="end" fill="#333" textLength="3.33" lengthAdjust="spacingAndGlyphs" stroke="#333" stroke-width="0.12">3</text>
<line x1="26.4" y1="220.6" x2="29.4" y2="220.6" stroke="#231f20" stroke-width="0.7" />
<text x="22.5" y="223" font-size="6.8" text-anchor="end" fill="#333" textLength="3.33" lengthAdjust="spacingAndGlyphs" stroke="#333" stroke-width="0.12">4</text>
<line x1="26.4" y1="207.2" x2="29.4" y2="207.2" stroke="#231f20" stroke-width="0.7" />
<text x="22.5" y="209.6" font-size="6.8" text-anchor="end" fill="#333" textLength="3.33" lengthAdjust="spacingAndGlyphs" stroke="#333" stroke-width="0.12">5</text>
<line x1="27.9" y1="267.5" x2="29.4" y2="267.5" stroke="#231f20" stroke-width="0.6" />
<line x1="27.9" y1="254.1" x2="29.4" y2="254.1" stroke="#231f20" stroke-width="0.6" />
<line x1="27.9" y1="240.7" x2="29.4" y2="240.7" stroke="#231f20" stroke-width="0.6" />
<line x1="27.9" y1="227.3" x2="29.4" y2="227.3" stroke="#231f20" stroke-width="0.6" />
<line x1="27.9" y1="213.9" x2="29.4" y2="213.9" stroke="#231f20" stroke-width="0.6" />
<line x1="33" y1="274.2" x2="33" y2="276.8" stroke="#231f20" stroke-width="0.7" />
<line x1="37.63" y1="274.2" x2="37.63" y2="275.7" stroke="#231f20" stroke-width="0.7" />
<line x1="42.25" y1="274.2" x2="42.25" y2="276.8" stroke="#231f20" stroke-width="0.7" />
<line x1="46.88" y1="274.2" x2="46.88" y2="275.7" stroke="#231f20" stroke-width="0.7" />
<line x1="51.5" y1="274.2" x2="51.5" y2="276.8" stroke="#231f20" stroke-width="0.7" />
<line x1="56.13" y1="274.2" x2="56.13" y2="275.7" stroke="#231f20" stroke-width="0.7" />
<line x1="60.76" y1="274.2" x2="60.76" y2="276.8" stroke="#231f20" stroke-width="0.7" />
<line x1="65.38" y1="274.2" x2="65.38" y2="275.7" stroke="#231f20" stroke-width="0.7" />
<line x1="70.01" y1="274.2" x2="70.01" y2="276.8" stroke="#231f20" stroke-width="0.7" />
<line x1="74.63" y1="274.2" x2="74.63" y2="275.7" stroke="#231f20" stroke-width="0.7" />
<line x1="79.26" y1="274.2" x2="79.26" y2="276.8" stroke="#231f20" stroke-width="0.7" />
<line x1="83.89" y1="274.2" x2="83.89" y2="275.7" stroke="#231f20" stroke-width="0.7" />
<line x1="88.51" y1="274.2" x2="88.51" y2="276.8" stroke="#231f20" stroke-width="0.7" />
<line x1="93.14" y1="274.2" x2="93.14" y2="275.7" stroke="#231f20" stroke-width="0.7" />
<line x1="97.76" y1="274.2" x2="97.76" y2="276.8" stroke="#231f20" stroke-width="0.7" />
<line x1="102.39" y1="274.2" x2="102.39" y2="275.7" stroke="#231f20" stroke-width="0.7" />
<line x1="107.02" y1="274.2" x2="107.02" y2="276.8" stroke="#231f20" stroke-width="0.7" />
<text x="33" y="286.2" font-size="6.8" text-anchor="middle" fill="#333" textLength="3.6" lengthAdjust="spacingAndGlyphs" stroke="#333" stroke-width="0.12">0</text>
<text x="42.25" y="286.2" font-size="6.8" text-anchor="middle" fill="#333" textLength="7.2" lengthAdjust="spacingAndGlyphs" stroke="#333" stroke-width="0.12">12</text>
<text x="51.5" y="286.2" font-size="6.8" text-anchor="middle" fill="#333" textLength="7.2" lengthAdjust="spacingAndGlyphs" stroke="#333" stroke-width="0.12">24</text>
<text x="60.76" y="286.2" font-size="6.8" text-anchor="middle" fill="#333" textLength="7.2" lengthAdjust="spacingAndGlyphs" stroke="#333" stroke-width="0.12">36</text>
<text x="70.01" y="286.2" font-size="6.8" text-anchor="middle" fill="#333" textLength="7.2" lengthAdjust="spacingAndGlyphs" stroke="#333" stroke-width="0.12">48</text>
<text x="79.26" y="286.2" font-size="6.8" text-anchor="middle" fill="#333" textLength="7.2" lengthAdjust="spacingAndGlyphs" stroke="#333" stroke-width="0.12">60</text>
<text x="88.51" y="286.2" font-size="6.8" text-anchor="middle" fill="#333" textLength="7.2" lengthAdjust="spacingAndGlyphs" stroke="#333" stroke-width="0.12">72</text>
<text x="97.76" y="286.2" font-size="6.8" text-anchor="middle" fill="#333" textLength="7.2" lengthAdjust="spacingAndGlyphs" stroke="#333" stroke-width="0.12">84</text>
<text x="107.02" y="286.2" font-size="6.8" text-anchor="middle" fill="#333" textLength="7.2" lengthAdjust="spacingAndGlyphs" stroke="#333" stroke-width="0.12">96</text>
<text x="68.01" y="296.8" font-size="7.6" text-anchor="middle" fill="#333" textLength="24.5" lengthAdjust="spacingAndGlyphs" stroke="#333" stroke-width="0.12">Time (h)</text>
<text x="13.3" y="238.5" font-size="7.6" text-anchor="middle" fill="#333" transform="rotate(-90 13.3 238.5)" textLength="59.5" lengthAdjust="spacingAndGlyphs" stroke="#333" stroke-width="0.12">Relative cell growth</text>
<text x="41.5" y="200.2" font-size="8.2" stroke="#231f20" stroke-width="0.12">KMS11-ishAK2</text>
<path d="M33 260.8 L37.63 259.46 L42.25 258.12 L46.88 256.78 L51.5 255.44 L56.13 254.1 L60.76 252.76 L65.38 249.75 L70.01 246.73 L74.63 243.04 L79.26 239.36 L83.89 235.34 L88.51 231.32 L93.14 227.63 L97.76 223.95 L102.39 215.91" fill="none" stroke="#c3c8cf" stroke-width="1.3" />
<line x1="102.39" y1="211.25" x2="102.39" y2="220.57" stroke="#c3c8cf" stroke-width="0.7" />
<line x1="101.29" y1="211.25" x2="103.49" y2="211.25" stroke="#c3c8cf" stroke-width="0.7" />
<line x1="101.29" y1="220.57" x2="103.49" y2="220.57" stroke="#c3c8cf" stroke-width="0.7" />
<circle cx="33" cy="260.8" r="1.1" fill="#c3c8cf" />
<circle cx="37.63" cy="259.46" r="1.1" fill="#c3c8cf" />
<circle cx="42.25" cy="258.12" r="1.1" fill="#c3c8cf" />
<circle cx="46.88" cy="256.78" r="1.1" fill="#c3c8cf" />
<circle cx="51.5" cy="255.44" r="1.1" fill="#c3c8cf" />
<circle cx="56.13" cy="254.1" r="1.1" fill="#c3c8cf" />
<circle cx="60.76" cy="252.76" r="1.1" fill="#c3c8cf" />
<circle cx="65.38" cy="249.75" r="1.1" fill="#c3c8cf" />
<circle cx="70.01" cy="246.73" r="1.1" fill="#c3c8cf" />
<circle cx="74.63" cy="243.04" r="1.1" fill="#c3c8cf" />
<circle cx="79.26" cy="239.36" r="1.1" fill="#c3c8cf" />
<circle cx="83.89" cy="235.34" r="1.1" fill="#c3c8cf" />
<circle cx="88.51" cy="231.32" r="1.1" fill="#c3c8cf" />
<circle cx="93.14" cy="227.63" r="1.1" fill="#c3c8cf" />
<circle cx="97.76" cy="223.95" r="1.1" fill="#c3c8cf" />
<circle cx="102.39" cy="215.91" r="1.1" fill="#c3c8cf" />
<path d="M46.88 257.05 L51.5 255.84 L56.13 254.64 L60.76 252.89 L65.38 251.15 L70.01 248.47 L74.63 245.93 L79.26 243.38 L83.89 240.36 L88.51 237.35 L93.14 235 L97.76 232.66 L102.39 230.25" fill="none" stroke="#3aa845" stroke-width="1.1" />
<line x1="65.38" y1="249.77" x2="65.38" y2="252.53" stroke="#3aa845" stroke-width="0.7" />
<line x1="64.28" y1="249.77" x2="66.48" y2="249.77" stroke="#3aa845" stroke-width="0.7" />
<line x1="64.28" y1="252.53" x2="66.48" y2="252.53" stroke="#3aa845" stroke-width="0.7" />
<line x1="70.01" y1="246.93" x2="70.01" y2="250.02" stroke="#3aa845" stroke-width="0.7" />
<line x1="68.91" y1="246.93" x2="71.11" y2="246.93" stroke="#3aa845" stroke-width="0.7" />
<line x1="68.91" y1="250.02" x2="71.11" y2="250.02" stroke="#3aa845" stroke-width="0.7" />
<line x1="74.63" y1="244.23" x2="74.63" y2="247.62" stroke="#3aa845" stroke-width="0.7" />
<line x1="73.53" y1="244.23" x2="75.73" y2="244.23" stroke="#3aa845" stroke-width="0.7" />
<line x1="73.53" y1="247.62" x2="75.73" y2="247.62" stroke="#3aa845" stroke-width="0.7" />
<line x1="79.26" y1="241.53" x2="79.26" y2="245.23" stroke="#3aa845" stroke-width="0.7" />
<line x1="78.16" y1="241.53" x2="80.36" y2="241.53" stroke="#3aa845" stroke-width="0.7" />
<line x1="78.16" y1="245.23" x2="80.36" y2="245.23" stroke="#3aa845" stroke-width="0.7" />
<line x1="83.89" y1="238.33" x2="83.89" y2="242.4" stroke="#3aa845" stroke-width="0.7" />
<line x1="82.79" y1="238.33" x2="84.99" y2="238.33" stroke="#3aa845" stroke-width="0.7" />
<line x1="82.79" y1="242.4" x2="84.99" y2="242.4" stroke="#3aa845" stroke-width="0.7" />
<line x1="88.51" y1="235.14" x2="88.51" y2="239.56" stroke="#3aa845" stroke-width="0.7" />
<line x1="87.41" y1="235.14" x2="89.61" y2="235.14" stroke="#3aa845" stroke-width="0.7" />
<line x1="87.41" y1="239.56" x2="89.61" y2="239.56" stroke="#3aa845" stroke-width="0.7" />
<line x1="93.14" y1="232.65" x2="93.14" y2="237.36" stroke="#3aa845" stroke-width="0.7" />
<line x1="92.04" y1="232.65" x2="94.24" y2="232.65" stroke="#3aa845" stroke-width="0.7" />
<line x1="92.04" y1="237.36" x2="94.24" y2="237.36" stroke="#3aa845" stroke-width="0.7" />
<line x1="97.76" y1="230.17" x2="97.76" y2="235.15" stroke="#3aa845" stroke-width="0.7" />
<line x1="96.66" y1="230.17" x2="98.86" y2="230.17" stroke="#3aa845" stroke-width="0.7" />
<line x1="96.66" y1="235.15" x2="98.86" y2="235.15" stroke="#3aa845" stroke-width="0.7" />
<line x1="102.39" y1="226.03" x2="102.39" y2="234.47" stroke="#3aa845" stroke-width="0.7" />
<line x1="101.29" y1="226.03" x2="103.49" y2="226.03" stroke="#3aa845" stroke-width="0.7" />
<line x1="101.29" y1="234.47" x2="103.49" y2="234.47" stroke="#3aa845" stroke-width="0.7" />
<circle cx="46.88" cy="257.05" r="1.2" fill="#3aa845" />
<circle cx="51.5" cy="255.84" r="1.2" fill="#3aa845" />
<circle cx="56.13" cy="254.64" r="1.2" fill="#3aa845" />
<circle cx="60.76" cy="252.89" r="1.2" fill="#3aa845" />
<circle cx="65.38" cy="251.15" r="1.2" fill="#3aa845" />
<circle cx="70.01" cy="248.47" r="1.2" fill="#3aa845" />
<circle cx="74.63" cy="245.93" r="1.2" fill="#3aa845" />
<circle cx="79.26" cy="243.38" r="1.2" fill="#3aa845" />
<circle cx="83.89" cy="240.36" r="1.2" fill="#3aa845" />
<circle cx="88.51" cy="237.35" r="1.2" fill="#3aa845" />
<circle cx="93.14" cy="235" r="1.2" fill="#3aa845" />
<circle cx="97.76" cy="232.66" r="1.2" fill="#3aa845" />
<circle cx="102.39" cy="230.25" r="1.2" fill="#3aa845" />
<path d="M46.88 257.05 L51.5 255.71 L56.13 254.37 L60.76 252.56 L65.38 250.75 L70.01 247.67 L74.63 244.85 L79.26 242.04 L83.89 239.02 L88.51 236.01 L93.14 233.66 L97.76 231.32 L102.39 228.91" fill="none" stroke="#1f3f73" stroke-width="1.1" />
<line x1="65.38" y1="249.34" x2="65.38" y2="252.16" stroke="#1f3f73" stroke-width="0.7" />
<line x1="64.28" y1="249.34" x2="66.48" y2="249.34" stroke="#1f3f73" stroke-width="0.7" />
<line x1="64.28" y1="252.16" x2="66.48" y2="252.16" stroke="#1f3f73" stroke-width="0.7" />
<line x1="70.01" y1="246.08" x2="70.01" y2="249.26" stroke="#1f3f73" stroke-width="0.7" />
<line x1="68.91" y1="246.08" x2="71.11" y2="246.08" stroke="#1f3f73" stroke-width="0.7" />
<line x1="68.91" y1="249.26" x2="71.11" y2="249.26" stroke="#1f3f73" stroke-width="0.7" />
<line x1="74.63" y1="243.09" x2="74.63" y2="246.61" stroke="#1f3f73" stroke-width="0.7" />
<line x1="73.53" y1="243.09" x2="75.73" y2="243.09" stroke="#1f3f73" stroke-width="0.7" />
<line x1="73.53" y1="246.61" x2="75.73" y2="246.61" stroke="#1f3f73" stroke-width="0.7" />
<line x1="79.26" y1="240.11" x2="79.26" y2="243.97" stroke="#1f3f73" stroke-width="0.7" />
<line x1="78.16" y1="240.11" x2="80.36" y2="240.11" stroke="#1f3f73" stroke-width="0.7" />
<line x1="78.16" y1="243.97" x2="80.36" y2="243.97" stroke="#1f3f73" stroke-width="0.7" />
<line x1="83.89" y1="236.91" x2="83.89" y2="241.14" stroke="#1f3f73" stroke-width="0.7" />
<line x1="82.79" y1="236.91" x2="84.99" y2="236.91" stroke="#1f3f73" stroke-width="0.7" />
<line x1="82.79" y1="241.14" x2="84.99" y2="241.14" stroke="#1f3f73" stroke-width="0.7" />
<line x1="88.51" y1="233.72" x2="88.51" y2="238.3" stroke="#1f3f73" stroke-width="0.7" />
<line x1="87.41" y1="233.72" x2="89.61" y2="233.72" stroke="#1f3f73" stroke-width="0.7" />
<line x1="87.41" y1="238.3" x2="89.61" y2="238.3" stroke="#1f3f73" stroke-width="0.7" />
<line x1="93.14" y1="231.23" x2="93.14" y2="236.1" stroke="#1f3f73" stroke-width="0.7" />
<line x1="92.04" y1="231.23" x2="94.24" y2="231.23" stroke="#1f3f73" stroke-width="0.7" />
<line x1="92.04" y1="236.1" x2="94.24" y2="236.1" stroke="#1f3f73" stroke-width="0.7" />
<line x1="97.76" y1="228.75" x2="97.76" y2="233.89" stroke="#1f3f73" stroke-width="0.7" />
<line x1="96.66" y1="228.75" x2="98.86" y2="228.75" stroke="#1f3f73" stroke-width="0.7" />
<line x1="96.66" y1="233.89" x2="98.86" y2="233.89" stroke="#1f3f73" stroke-width="0.7" />
<line x1="102.39" y1="224.56" x2="102.39" y2="233.26" stroke="#1f3f73" stroke-width="0.7" />
<line x1="101.29" y1="224.56" x2="103.49" y2="224.56" stroke="#1f3f73" stroke-width="0.7" />
<line x1="101.29" y1="233.26" x2="103.49" y2="233.26" stroke="#1f3f73" stroke-width="0.7" />
<circle cx="46.88" cy="257.05" r="1.3" fill="#1f3f73" />
<circle cx="51.5" cy="255.71" r="1.3" fill="#1f3f73" />
<circle cx="56.13" cy="254.37" r="1.3" fill="#1f3f73" />
<circle cx="60.76" cy="252.56" r="1.3" fill="#1f3f73" />
<circle cx="65.38" cy="250.75" r="1.3" fill="#1f3f73" />
<circle cx="70.01" cy="247.67" r="1.3" fill="#1f3f73" />
<circle cx="74.63" cy="244.85" r="1.3" fill="#1f3f73" />
<circle cx="79.26" cy="242.04" r="1.3" fill="#1f3f73" />
<circle cx="83.89" cy="239.02" r="1.3" fill="#1f3f73" />
<circle cx="88.51" cy="236.01" r="1.3" fill="#1f3f73" />
<circle cx="93.14" cy="233.66" r="1.3" fill="#1f3f73" />
<circle cx="97.76" cy="231.32" r="1.3" fill="#1f3f73" />
<circle cx="102.39" cy="228.91" r="1.3" fill="#1f3f73" />
<path d="M46.88 256.51 L51.5 256.6 L56.13 256.69 L60.76 256.78 L65.38 256.11 L70.01 254.97 L74.63 253.83 L79.26 253.09 L83.89 252.36 L88.51 251.75 L93.14 251.15 L97.76 250.35 L102.39 249.01" fill="none" stroke="#c5163c" stroke-width="1.1" />
<line x1="65.38" y1="254.77" x2="65.38" y2="257.45" stroke="#c5163c" stroke-width="0.7" />
<line x1="64.28" y1="254.77" x2="66.48" y2="254.77" stroke="#c5163c" stroke-width="0.7" />
<line x1="64.28" y1="257.45" x2="66.48" y2="257.45" stroke="#c5163c" stroke-width="0.7" />
<line x1="70.01" y1="253.63" x2="70.01" y2="256.31" stroke="#c5163c" stroke-width="0.7" />
<line x1="68.91" y1="253.63" x2="71.11" y2="253.63" stroke="#c5163c" stroke-width="0.7" />
<line x1="68.91" y1="256.31" x2="71.11" y2="256.31" stroke="#c5163c" stroke-width="0.7" />
<line x1="74.63" y1="252.49" x2="74.63" y2="255.17" stroke="#c5163c" stroke-width="0.7" />
<line x1="73.53" y1="252.49" x2="75.73" y2="252.49" stroke="#c5163c" stroke-width="0.7" />
<line x1="73.53" y1="255.17" x2="75.73" y2="255.17" stroke="#c5163c" stroke-width="0.7" />
<line x1="79.26" y1="251.75" x2="79.26" y2="254.44" stroke="#c5163c" stroke-width="0.7" />
<line x1="78.16" y1="251.75" x2="80.36" y2="251.75" stroke="#c5163c" stroke-width="0.7" />
<line x1="78.16" y1="254.44" x2="80.36" y2="254.44" stroke="#c5163c" stroke-width="0.7" />
<line x1="83.89" y1="251.02" x2="83.89" y2="253.7" stroke="#c5163c" stroke-width="0.7" />
<line x1="82.79" y1="251.02" x2="84.99" y2="251.02" stroke="#c5163c" stroke-width="0.7" />
<line x1="82.79" y1="253.7" x2="84.99" y2="253.7" stroke="#c5163c" stroke-width="0.7" />
<line x1="88.51" y1="250.41" x2="88.51" y2="253.1" stroke="#c5163c" stroke-width="0.7" />
<line x1="87.41" y1="250.41" x2="89.61" y2="250.41" stroke="#c5163c" stroke-width="0.7" />
<line x1="87.41" y1="253.1" x2="89.61" y2="253.1" stroke="#c5163c" stroke-width="0.7" />
<line x1="93.14" y1="249.77" x2="93.14" y2="252.53" stroke="#c5163c" stroke-width="0.7" />
<line x1="92.04" y1="249.77" x2="94.24" y2="249.77" stroke="#c5163c" stroke-width="0.7" />
<line x1="92.04" y1="252.53" x2="94.24" y2="252.53" stroke="#c5163c" stroke-width="0.7" />
<line x1="97.76" y1="248.92" x2="97.76" y2="251.78" stroke="#c5163c" stroke-width="0.7" />
<line x1="96.66" y1="248.92" x2="98.86" y2="248.92" stroke="#c5163c" stroke-width="0.7" />
<line x1="96.66" y1="251.78" x2="98.86" y2="251.78" stroke="#c5163c" stroke-width="0.7" />
<line x1="102.39" y1="246.59" x2="102.39" y2="251.43" stroke="#c5163c" stroke-width="0.7" />
<line x1="101.29" y1="246.59" x2="103.49" y2="246.59" stroke="#c5163c" stroke-width="0.7" />
<line x1="101.29" y1="251.43" x2="103.49" y2="251.43" stroke="#c5163c" stroke-width="0.7" />
<circle cx="46.88" cy="256.51" r="1.3" fill="#c5163c" />
<circle cx="51.5" cy="256.6" r="1.3" fill="#c5163c" />
<circle cx="56.13" cy="256.69" r="1.3" fill="#c5163c" />
<circle cx="60.76" cy="256.78" r="1.3" fill="#c5163c" />
<circle cx="65.38" cy="256.11" r="1.3" fill="#c5163c" />
<circle cx="70.01" cy="254.97" r="1.3" fill="#c5163c" />
<circle cx="74.63" cy="253.83" r="1.3" fill="#c5163c" />
<circle cx="79.26" cy="253.09" r="1.3" fill="#c5163c" />
<circle cx="83.89" cy="252.36" r="1.3" fill="#c5163c" />
<circle cx="88.51" cy="251.75" r="1.3" fill="#c5163c" />
<circle cx="93.14" cy="251.15" r="1.3" fill="#c5163c" />
<circle cx="97.76" cy="250.35" r="1.3" fill="#c5163c" />
<circle cx="102.39" cy="249.01" r="1.3" fill="#c5163c" />
<circle cx="33.5" cy="207.3" r="1.3" fill="#c3c8cf" />
<text x="38.7" y="209.7" font-size="6.4" fill="#333" textLength="19.3" lengthAdjust="spacingAndGlyphs" stroke="#333" stroke-width="0.12">DMSO</text>
<circle cx="33.5" cy="214.1" r="1.3" fill="#1f3f73" />
<text x="38.7" y="216.5" font-size="6.4" fill="#333" textLength="38" lengthAdjust="spacingAndGlyphs" stroke="#333" stroke-width="0.12">Dox + DMSO</text>
<circle cx="33.5" cy="220.9" r="1.3" fill="#3aa845" />
<text x="38.7" y="223.3" font-size="6.4" fill="#333" textLength="29.7" lengthAdjust="spacingAndGlyphs" stroke="#333" stroke-width="0.12">BTZ (1nM)</text>
<circle cx="33.5" cy="227.7" r="1.3" fill="#c5163c" />
<text x="38.7" y="230.1" font-size="6.4" fill="#333" textLength="48.5" lengthAdjust="spacingAndGlyphs" stroke="#333" stroke-width="0.12">Dox + BTZ (1nM)</text>
<text x="126.4" y="186.7" font-size="11" font-weight="bold" fill="#000">F</text>
<line x1="147.5" y1="205.58" x2="147.5" y2="274.2" stroke="#111" stroke-width="1.0" />
<line x1="147.5" y1="274.2" x2="227.58" y2="274.2" stroke="#111" stroke-width="1.0" />
<line x1="144.5" y1="274.2" x2="147.5" y2="274.2" stroke="#231f20" stroke-width="0.7" />
<text x="140.6" y="276.6" font-size="6.8" text-anchor="end" fill="#333" textLength="3.33" lengthAdjust="spacingAndGlyphs" stroke="#333" stroke-width="0.12">0</text>
<line x1="144.5" y1="264.54" x2="147.5" y2="264.54" stroke="#231f20" stroke-width="0.7" />
<text x="140.6" y="266.94" font-size="6.8" text-anchor="end" fill="#333" textLength="3.33" lengthAdjust="spacingAndGlyphs" stroke="#333" stroke-width="0.12">1</text>
<line x1="144.5" y1="254.88" x2="147.5" y2="254.88" stroke="#231f20" stroke-width="0.7" />
<text x="140.6" y="257.28" font-size="6.8" text-anchor="end" fill="#333" textLength="3.33" lengthAdjust="spacingAndGlyphs" stroke="#333" stroke-width="0.12">2</text>
<line x1="144.5" y1="245.22" x2="147.5" y2="245.22" stroke="#231f20" stroke-width="0.7" />
<text x="140.6" y="247.62" font-size="6.8" text-anchor="end" fill="#333" textLength="3.33" lengthAdjust="spacingAndGlyphs" stroke="#333" stroke-width="0.12">3</text>
<line x1="144.5" y1="235.56" x2="147.5" y2="235.56" stroke="#231f20" stroke-width="0.7" />
<text x="140.6" y="237.96" font-size="6.8" text-anchor="end" fill="#333" textLength="3.33" lengthAdjust="spacingAndGlyphs" stroke="#333" stroke-width="0.12">4</text>
<line x1="144.5" y1="225.9" x2="147.5" y2="225.9" stroke="#231f20" stroke-width="0.7" />
<text x="140.6" y="228.3" font-size="6.8" text-anchor="end" fill="#333" textLength="3.33" lengthAdjust="spacingAndGlyphs" stroke="#333" stroke-width="0.12">5</text>
<line x1="144.5" y1="216.24" x2="147.5" y2="216.24" stroke="#231f20" stroke-width="0.7" />
<text x="140.6" y="218.64" font-size="6.8" text-anchor="end" fill="#333" textLength="3.33" lengthAdjust="spacingAndGlyphs" stroke="#333" stroke-width="0.12">6</text>
<line x1="144.5" y1="206.58" x2="147.5" y2="206.58" stroke="#231f20" stroke-width="0.7" />
<text x="140.6" y="208.98" font-size="6.8" text-anchor="end" fill="#333" textLength="3.33" lengthAdjust="spacingAndGlyphs" stroke="#333" stroke-width="0.12">7</text>
<line x1="146" y1="269.37" x2="147.5" y2="269.37" stroke="#231f20" stroke-width="0.6" />
<line x1="146" y1="259.71" x2="147.5" y2="259.71" stroke="#231f20" stroke-width="0.6" />
<line x1="146" y1="250.05" x2="147.5" y2="250.05" stroke="#231f20" stroke-width="0.6" />
<line x1="146" y1="240.39" x2="147.5" y2="240.39" stroke="#231f20" stroke-width="0.6" />
<line x1="146" y1="230.73" x2="147.5" y2="230.73" stroke="#231f20" stroke-width="0.6" />
<line x1="146" y1="221.07" x2="147.5" y2="221.07" stroke="#231f20" stroke-width="0.6" />
<line x1="146" y1="211.41" x2="147.5" y2="211.41" stroke="#231f20" stroke-width="0.6" />
<line x1="151.9" y1="274.2" x2="151.9" y2="276.8" stroke="#231f20" stroke-width="0.7" />
<line x1="156.5" y1="274.2" x2="156.5" y2="275.7" stroke="#231f20" stroke-width="0.7" />
<line x1="161.11" y1="274.2" x2="161.11" y2="276.8" stroke="#231f20" stroke-width="0.7" />
<line x1="165.72" y1="274.2" x2="165.72" y2="275.7" stroke="#231f20" stroke-width="0.7" />
<line x1="170.32" y1="274.2" x2="170.32" y2="276.8" stroke="#231f20" stroke-width="0.7" />
<line x1="174.93" y1="274.2" x2="174.93" y2="275.7" stroke="#231f20" stroke-width="0.7" />
<line x1="179.53" y1="274.2" x2="179.53" y2="276.8" stroke="#231f20" stroke-width="0.7" />
<line x1="184.13" y1="274.2" x2="184.13" y2="275.7" stroke="#231f20" stroke-width="0.7" />
<line x1="188.74" y1="274.2" x2="188.74" y2="276.8" stroke="#231f20" stroke-width="0.7" />
<line x1="193.34" y1="274.2" x2="193.34" y2="275.7" stroke="#231f20" stroke-width="0.7" />
<line x1="197.95" y1="274.2" x2="197.95" y2="276.8" stroke="#231f20" stroke-width="0.7" />
<line x1="202.56" y1="274.2" x2="202.56" y2="275.7" stroke="#231f20" stroke-width="0.7" />
<line x1="207.16" y1="274.2" x2="207.16" y2="276.8" stroke="#231f20" stroke-width="0.7" />
<line x1="211.76" y1="274.2" x2="211.76" y2="275.7" stroke="#231f20" stroke-width="0.7" />
<line x1="216.37" y1="274.2" x2="216.37" y2="276.8" stroke="#231f20" stroke-width="0.7" />
<line x1="220.98" y1="274.2" x2="220.98" y2="275.7" stroke="#231f20" stroke-width="0.7" />
<line x1="225.58" y1="274.2" x2="225.58" y2="276.8" stroke="#231f20" stroke-width="0.7" />
<text x="151.9" y="286.2" font-size="6.8" text-anchor="middle" fill="#333" textLength="3.6" lengthAdjust="spacingAndGlyphs" stroke="#333" stroke-width="0.12">0</text>
<text x="161.11" y="286.2" font-size="6.8" text-anchor="middle" fill="#333" textLength="7.2" lengthAdjust="spacingAndGlyphs" stroke="#333" stroke-width="0.12">12</text>
<text x="170.32" y="286.2" font-size="6.8" text-anchor="middle" fill="#333" textLength="7.2" lengthAdjust="spacingAndGlyphs" stroke="#333" stroke-width="0.12">24</text>
<text x="179.53" y="286.2" font-size="6.8" text-anchor="middle" fill="#333" textLength="7.2" lengthAdjust="spacingAndGlyphs" stroke="#333" stroke-width="0.12">36</text>
<text x="188.74" y="286.2" font-size="6.8" text-anchor="middle" fill="#333" textLength="7.2" lengthAdjust="spacingAndGlyphs" stroke="#333" stroke-width="0.12">48</text>
<text x="197.95" y="286.2" font-size="6.8" text-anchor="middle" fill="#333" textLength="7.2" lengthAdjust="spacingAndGlyphs" stroke="#333" stroke-width="0.12">60</text>
<text x="207.16" y="286.2" font-size="6.8" text-anchor="middle" fill="#333" textLength="7.2" lengthAdjust="spacingAndGlyphs" stroke="#333" stroke-width="0.12">72</text>
<text x="216.37" y="286.2" font-size="6.8" text-anchor="middle" fill="#333" textLength="7.2" lengthAdjust="spacingAndGlyphs" stroke="#333" stroke-width="0.12">84</text>
<text x="225.58" y="286.2" font-size="6.8" text-anchor="middle" fill="#333" textLength="7.2" lengthAdjust="spacingAndGlyphs" stroke="#333" stroke-width="0.12">96</text>
<text x="186.74" y="296.8" font-size="7.6" text-anchor="middle" fill="#333" textLength="24.5" lengthAdjust="spacingAndGlyphs" stroke="#333" stroke-width="0.12">Time (h)</text>
<text x="131.4" y="238.5" font-size="7.6" text-anchor="middle" fill="#333" transform="rotate(-90 131.4 238.5)" textLength="59.5" lengthAdjust="spacingAndGlyphs" stroke="#333" stroke-width="0.12">Relative cell growth</text>
<text x="166.4" y="200.2" font-size="8.2" stroke="#231f20" stroke-width="0.12">LP1-ishAK2</text>
<path d="M151.9 264.3 L158.04 262.81 L164.18 261.33 L170.32 259.84 L176.46 257.12 L182.6 254.4 L188.74 250.69 L194.88 246.97 L201.02 241.28 L207.16 235.59 L213.3 227.67 L219.44 214.8" fill="none" stroke="#c3c8cf" stroke-width="1.3" />
<line x1="219.44" y1="210.05" x2="219.44" y2="219.55" stroke="#c3c8cf" stroke-width="0.7" />
<line x1="218.34" y1="210.05" x2="220.54" y2="210.05" stroke="#c3c8cf" stroke-width="0.7" />
<line x1="218.34" y1="219.55" x2="220.54" y2="219.55" stroke="#c3c8cf" stroke-width="0.7" />
<circle cx="151.9" cy="264.3" r="1.1" fill="#c3c8cf" />
<circle cx="158.04" cy="262.81" r="1.1" fill="#c3c8cf" />
<circle cx="164.18" cy="261.33" r="1.1" fill="#c3c8cf" />
<circle cx="170.32" cy="259.84" r="1.1" fill="#c3c8cf" />
<circle cx="176.46" cy="257.12" r="1.1" fill="#c3c8cf" />
<circle cx="182.6" cy="254.4" r="1.1" fill="#c3c8cf" />
<circle cx="188.74" cy="250.69" r="1.1" fill="#c3c8cf" />
<circle cx="194.88" cy="246.97" r="1.1" fill="#c3c8cf" />
<circle cx="201.02" cy="241.28" r="1.1" fill="#c3c8cf" />
<circle cx="207.16" cy="235.59" r="1.1" fill="#c3c8cf" />
<circle cx="213.3" cy="227.67" r="1.1" fill="#c3c8cf" />
<circle cx="219.44" cy="214.8" r="1.1" fill="#c3c8cf" />
<path d="M170.32 260.24 L176.46 257.52 L182.6 254.8 L188.74 252.42 L194.88 248.46 L201.02 244 L207.16 238.56 L213.3 232.62 L219.44 224.7" fill="none" stroke="#3aa845" stroke-width="1.1" />
<line x1="207.16" y1="236.42" x2="207.16" y2="240.7" stroke="#3aa845" stroke-width="0.7" />
<line x1="206.06" y1="236.42" x2="208.26" y2="236.42" stroke="#3aa845" stroke-width="0.7" />
<line x1="206.06" y1="240.7" x2="208.26" y2="240.7" stroke="#3aa845" stroke-width="0.7" />
<line x1="213.3" y1="230.13" x2="213.3" y2="235.11" stroke="#3aa845" stroke-width="0.7" />
<line x1="212.2" y1="230.13" x2="214.4" y2="230.13" stroke="#3aa845" stroke-width="0.7" />
<line x1="212.2" y1="235.11" x2="214.4" y2="235.11" stroke="#3aa845" stroke-width="0.7" />
<line x1="219.44" y1="219.95" x2="219.44" y2="229.45" stroke="#3aa845" stroke-width="0.7" />
<line x1="218.34" y1="219.95" x2="220.54" y2="219.95" stroke="#3aa845" stroke-width="0.7" />
<line x1="218.34" y1="229.45" x2="220.54" y2="229.45" stroke="#3aa845" stroke-width="0.7" />
<circle cx="170.32" cy="260.24" r="1.3" fill="#3aa845" />
<circle cx="176.46" cy="257.52" r="1.3" fill="#3aa845" />
<circle cx="182.6" cy="254.8" r="1.3" fill="#3aa845" />
<circle cx="188.74" cy="252.42" r="1.3" fill="#3aa845" />
<circle cx="194.88" cy="248.46" r="1.3" fill="#3aa845" />
<circle cx="201.02" cy="244" r="1.3" fill="#3aa845" />
<circle cx="207.16" cy="238.56" r="1.3" fill="#3aa845" />
<circle cx="213.3" cy="232.62" r="1.3" fill="#3aa845" />
<circle cx="219.44" cy="224.7" r="1.3" fill="#3aa845" />
<path d="M170.32 260.24 L176.46 257.52 L182.6 254.8 L188.74 252.42 L194.88 248.46 L201.02 243.51 L207.16 237.57 L213.3 231.13 L219.44 222.03" fill="none" stroke="#1f3f73" stroke-width="1.1" />
<line x1="207.16" y1="235.37" x2="207.16" y2="239.77" stroke="#1f3f73" stroke-width="0.7" />
<line x1="206.06" y1="235.37" x2="208.26" y2="235.37" stroke="#1f3f73" stroke-width="0.7" />
<line x1="206.06" y1="239.77" x2="208.26" y2="239.77" stroke="#1f3f73" stroke-width="0.7" />
<line x1="213.3" y1="228.55" x2="213.3" y2="233.72" stroke="#1f3f73" stroke-width="0.7" />
<line x1="212.2" y1="228.55" x2="214.4" y2="228.55" stroke="#1f3f73" stroke-width="0.7" />
<line x1="212.2" y1="233.72" x2="214.4" y2="233.72" stroke="#1f3f73" stroke-width="0.7" />
<line x1="219.44" y1="217.02" x2="219.44" y2="227.04" stroke="#1f3f73" stroke-width="0.7" />
<line x1="218.34" y1="217.02" x2="220.54" y2="217.02" stroke="#1f3f73" stroke-width="0.7" />
<line x1="218.34" y1="227.04" x2="220.54" y2="227.04" stroke="#1f3f73" stroke-width="0.7" />
<circle cx="170.32" cy="260.24" r="1.3" fill="#1f3f73" />
<circle cx="176.46" cy="257.52" r="1.3" fill="#1f3f73" />
<circle cx="182.6" cy="254.8" r="1.3" fill="#1f3f73" />
<circle cx="188.74" cy="252.42" r="1.3" fill="#1f3f73" />
<circle cx="194.88" cy="248.46" r="1.3" fill="#1f3f73" />
<circle cx="201.02" cy="243.51" r="1.3" fill="#1f3f73" />
<circle cx="207.16" cy="237.57" r="1.3" fill="#1f3f73" />
<circle cx="213.3" cy="231.13" r="1.3" fill="#1f3f73" />
<circle cx="219.44" cy="222.03" r="1.3" fill="#1f3f73" />
<path d="M170.32 260.24 L176.46 259.75 L182.6 258.85 L188.74 258.36 L194.88 256.88 L201.02 256.38 L207.16 253.91 L213.3 253.11 L219.44 252.32" fill="none" stroke="#c5163c" stroke-width="1.1" />
<circle cx="170.32" cy="260.24" r="1.3" fill="#c5163c" />
<circle cx="176.46" cy="259.75" r="1.3" fill="#c5163c" />
<circle cx="182.6" cy="258.85" r="1.3" fill="#c5163c" />
<circle cx="188.74" cy="258.36" r="1.3" fill="#c5163c" />
<circle cx="194.88" cy="256.88" r="1.3" fill="#c5163c" />
<circle cx="201.02" cy="256.38" r="1.3" fill="#c5163c" />
<circle cx="207.16" cy="253.91" r="1.3" fill="#c5163c" />
<circle cx="213.3" cy="253.11" r="1.3" fill="#c5163c" />
<circle cx="219.44" cy="252.32" r="1.3" fill="#c5163c" />
<circle cx="152.4" cy="207.3" r="1.3" fill="#c3c8cf" />
<text x="157.6" y="209.7" font-size="6.4" fill="#333" textLength="19.3" lengthAdjust="spacingAndGlyphs" stroke="#333" stroke-width="0.12">DMSO</text>
<circle cx="152.4" cy="214.1" r="1.3" fill="#1f3f73" />
<text x="157.6" y="216.5" font-size="6.4" fill="#333" textLength="38" lengthAdjust="spacingAndGlyphs" stroke="#333" stroke-width="0.12">Dox + DMSO</text>
<circle cx="152.4" cy="220.9" r="1.3" fill="#3aa845" />
<text x="157.6" y="223.3" font-size="6.4" fill="#333" textLength="29.7" lengthAdjust="spacingAndGlyphs" stroke="#333" stroke-width="0.12">BTZ (1nM)</text>
<circle cx="152.4" cy="227.7" r="1.3" fill="#c5163c" />
<text x="157.6" y="230.1" font-size="6.4" fill="#333" textLength="48.5" lengthAdjust="spacingAndGlyphs" stroke="#333" stroke-width="0.12">Dox + BTZ (1nM)</text>
<text x="245.4" y="186.7" font-size="11" font-weight="bold" fill="#000">G</text>
<line x1="265.8" y1="205.58" x2="265.8" y2="274.2" stroke="#111" stroke-width="1.0" />
<line x1="265.8" y1="274.2" x2="347.18" y2="274.2" stroke="#111" stroke-width="1.0" />
<line x1="262.8" y1="274.2" x2="265.8" y2="274.2" stroke="#231f20" stroke-width="0.7" />
<text x="258.9" y="276.6" font-size="6.8" text-anchor="end" fill="#333" textLength="3.33" lengthAdjust="spacingAndGlyphs" stroke="#333" stroke-width="0.12">0</text>
<line x1="262.8" y1="264.54" x2="265.8" y2="264.54" stroke="#231f20" stroke-width="0.7" />
<text x="258.9" y="266.94" font-size="6.8" text-anchor="end" fill="#333" textLength="3.33" lengthAdjust="spacingAndGlyphs" stroke="#333" stroke-width="0.12">1</text>
<line x1="262.8" y1="254.88" x2="265.8" y2="254.88" stroke="#231f20" stroke-width="0.7" />
<text x="258.9" y="257.28" font-size="6.8" text-anchor="end" fill="#333" textLength="3.33" lengthAdjust="spacingAndGlyphs" stroke="#333" stroke-width="0.12">2</text>
<line x1="262.8" y1="245.22" x2="265.8" y2="245.22" stroke="#231f20" stroke-width="0.7" />
<text x="258.9" y="247.62" font-size="6.8" text-anchor="end" fill="#333" textLength="3.33" lengthAdjust="spacingAndGlyphs" stroke="#333" stroke-width="0.12">3</text>
<line x1="262.8" y1="235.56" x2="265.8" y2="235.56" stroke="#231f20" stroke-width="0.7" />
<text x="258.9" y="237.96" font-size="6.8" text-anchor="end" fill="#333" textLength="3.33" lengthAdjust="spacingAndGlyphs" stroke="#333" stroke-width="0.12">4</text>
<line x1="262.8" y1="225.9" x2="265.8" y2="225.9" stroke="#231f20" stroke-width="0.7" />
<text x="258.9" y="228.3" font-size="6.8" text-anchor="end" fill="#333" textLength="3.33" lengthAdjust="spacingAndGlyphs" stroke="#333" stroke-width="0.12">5</text>
<line x1="262.8" y1="216.24" x2="265.8" y2="216.24" stroke="#231f20" stroke-width="0.7" />
<text x="258.9" y="218.64" font-size="6.8" text-anchor="end" fill="#333" textLength="3.33" lengthAdjust="spacingAndGlyphs" stroke="#333" stroke-width="0.12">6</text>
<line x1="262.8" y1="206.58" x2="265.8" y2="206.58" stroke="#231f20" stroke-width="0.7" />
<text x="258.9" y="208.98" font-size="6.8" text-anchor="end" fill="#333" textLength="3.33" lengthAdjust="spacingAndGlyphs" stroke="#333" stroke-width="0.12">7</text>
<line x1="264.3" y1="269.37" x2="265.8" y2="269.37" stroke="#231f20" stroke-width="0.6" />
<line x1="264.3" y1="259.71" x2="265.8" y2="259.71" stroke="#231f20" stroke-width="0.6" />
<line x1="264.3" y1="250.05" x2="265.8" y2="250.05" stroke="#231f20" stroke-width="0.6" />
<line x1="264.3" y1="240.39" x2="265.8" y2="240.39" stroke="#231f20" stroke-width="0.6" />
<line x1="264.3" y1="230.73" x2="265.8" y2="230.73" stroke="#231f20" stroke-width="0.6" />
<line x1="264.3" y1="221.07" x2="265.8" y2="221.07" stroke="#231f20" stroke-width="0.6" />
<line x1="264.3" y1="211.41" x2="265.8" y2="211.41" stroke="#231f20" stroke-width="0.6" />
<line x1="271.5" y1="274.2" x2="271.5" y2="276.8" stroke="#231f20" stroke-width="0.7" />
<line x1="276.11" y1="274.2" x2="276.11" y2="275.7" stroke="#231f20" stroke-width="0.7" />
<line x1="280.71" y1="274.2" x2="280.71" y2="276.8" stroke="#231f20" stroke-width="0.7" />
<line x1="285.31" y1="274.2" x2="285.31" y2="275.7" stroke="#231f20" stroke-width="0.7" />
<line x1="289.92" y1="274.2" x2="289.92" y2="276.8" stroke="#231f20" stroke-width="0.7" />
<line x1="294.52" y1="274.2" x2="294.52" y2="275.7" stroke="#231f20" stroke-width="0.7" />
<line x1="299.13" y1="274.2" x2="299.13" y2="276.8" stroke="#231f20" stroke-width="0.7" />
<line x1="303.74" y1="274.2" x2="303.74" y2="275.7" stroke="#231f20" stroke-width="0.7" />
<line x1="308.34" y1="274.2" x2="308.34" y2="276.8" stroke="#231f20" stroke-width="0.7" />
<line x1="312.94" y1="274.2" x2="312.94" y2="275.7" stroke="#231f20" stroke-width="0.7" />
<line x1="317.55" y1="274.2" x2="317.55" y2="276.8" stroke="#231f20" stroke-width="0.7" />
<line x1="322.15" y1="274.2" x2="322.15" y2="275.7" stroke="#231f20" stroke-width="0.7" />
<line x1="326.76" y1="274.2" x2="326.76" y2="276.8" stroke="#231f20" stroke-width="0.7" />
<line x1="331.37" y1="274.2" x2="331.37" y2="275.7" stroke="#231f20" stroke-width="0.7" />
<line x1="335.97" y1="274.2" x2="335.97" y2="276.8" stroke="#231f20" stroke-width="0.7" />
<line x1="340.57" y1="274.2" x2="340.57" y2="275.7" stroke="#231f20" stroke-width="0.7" />
<line x1="345.18" y1="274.2" x2="345.18" y2="276.8" stroke="#231f20" stroke-width="0.7" />
<text x="271.5" y="286.2" font-size="6.8" text-anchor="middle" fill="#333" textLength="3.6" lengthAdjust="spacingAndGlyphs" stroke="#333" stroke-width="0.12">0</text>
<text x="280.71" y="286.2" font-size="6.8" text-anchor="middle" fill="#333" textLength="7.2" lengthAdjust="spacingAndGlyphs" stroke="#333" stroke-width="0.12">12</text>
<text x="289.92" y="286.2" font-size="6.8" text-anchor="middle" fill="#333" textLength="7.2" lengthAdjust="spacingAndGlyphs" stroke="#333" stroke-width="0.12">24</text>
<text x="299.13" y="286.2" font-size="6.8" text-anchor="middle" fill="#333" textLength="7.2" lengthAdjust="spacingAndGlyphs" stroke="#333" stroke-width="0.12">36</text>
<text x="308.34" y="286.2" font-size="6.8" text-anchor="middle" fill="#333" textLength="7.2" lengthAdjust="spacingAndGlyphs" stroke="#333" stroke-width="0.12">48</text>
<text x="317.55" y="286.2" font-size="6.8" text-anchor="middle" fill="#333" textLength="7.2" lengthAdjust="spacingAndGlyphs" stroke="#333" stroke-width="0.12">60</text>
<text x="326.76" y="286.2" font-size="6.8" text-anchor="middle" fill="#333" textLength="7.2" lengthAdjust="spacingAndGlyphs" stroke="#333" stroke-width="0.12">72</text>
<text x="335.97" y="286.2" font-size="6.8" text-anchor="middle" fill="#333" textLength="7.2" lengthAdjust="spacingAndGlyphs" stroke="#333" stroke-width="0.12">84</text>
<text x="345.18" y="286.2" font-size="6.8" text-anchor="middle" fill="#333" textLength="7.2" lengthAdjust="spacingAndGlyphs" stroke="#333" stroke-width="0.12">96</text>
<text x="306.34" y="296.8" font-size="7.6" text-anchor="middle" fill="#333" textLength="24.5" lengthAdjust="spacingAndGlyphs" stroke="#333" stroke-width="0.12">Time (h)</text>
<text x="249.7" y="238.5" font-size="7.6" text-anchor="middle" fill="#333" transform="rotate(-90 249.7 238.5)" textLength="59.5" lengthAdjust="spacingAndGlyphs" stroke="#333" stroke-width="0.12">Relative cell growth</text>
<text x="279.9" y="200.2" font-size="8.2" stroke="#231f20" stroke-width="0.12">KMS18-ishAK2</text>
<path d="M271.5 264.6 L276.11 261.5 L280.71 259.5 L285.31 257.4 L289.92 255.6 L294.52 253.4 L299.13 251.2 L303.74 248 L308.34 245.5 L312.94 241.9 L317.55 238.5 L322.15 233.8 L326.76 227 L331.37 219" fill="none" stroke="#c3c8cf" stroke-width="1.3" />
<line x1="331.37" y1="214.58" x2="331.37" y2="223.42" stroke="#c3c8cf" stroke-width="0.7" />
<line x1="330.26" y1="214.58" x2="332.47" y2="214.58" stroke="#c3c8cf" stroke-width="0.7" />
<line x1="330.26" y1="223.42" x2="332.47" y2="223.42" stroke="#c3c8cf" stroke-width="0.7" />
<circle cx="271.5" cy="264.6" r="1.1" fill="#c3c8cf" />
<circle cx="276.11" cy="261.5" r="1.1" fill="#c3c8cf" />
<circle cx="280.71" cy="259.5" r="1.1" fill="#c3c8cf" />
<circle cx="285.31" cy="257.4" r="1.1" fill="#c3c8cf" />
<circle cx="289.92" cy="255.6" r="1.1" fill="#c3c8cf" />
<circle cx="294.52" cy="253.4" r="1.1" fill="#c3c8cf" />
<circle cx="299.13" cy="251.2" r="1.1" fill="#c3c8cf" />
<circle cx="303.74" cy="248" r="1.1" fill="#c3c8cf" />
<circle cx="308.34" cy="245.5" r="1.1" fill="#c3c8cf" />
<circle cx="312.94" cy="241.9" r="1.1" fill="#c3c8cf" />
<circle cx="317.55" cy="238.5" r="1.1" fill="#c3c8cf" />
<circle cx="322.15" cy="233.8" r="1.1" fill="#c3c8cf" />
<circle cx="326.76" cy="227" r="1.1" fill="#c3c8cf" />
<circle cx="331.37" cy="219" r="1.1" fill="#c3c8cf" />
<path d="M276.11 260.8 L280.71 259.4 L285.31 257.8 L289.92 256 L294.52 254.3 L299.13 252.7 L303.74 250.3 L308.34 247.3 L312.94 243.9 L317.55 240.6 L322.15 236.5 L326.76 231.2 L331.37 225.5" fill="none" stroke="#3aa845" stroke-width="1.1" />
<circle cx="276.11" cy="260.8" r="1.3" fill="#3aa845" />
<circle cx="280.71" cy="259.4" r="1.3" fill="#3aa845" />
<circle cx="285.31" cy="257.8" r="1.3" fill="#3aa845" />
<circle cx="289.92" cy="256" r="1.3" fill="#3aa845" />
<circle cx="294.52" cy="254.3" r="1.3" fill="#3aa845" />
<circle cx="299.13" cy="252.7" r="1.3" fill="#3aa845" />
<circle cx="303.74" cy="250.3" r="1.3" fill="#3aa845" />
<circle cx="308.34" cy="247.3" r="1.3" fill="#3aa845" />
<circle cx="312.94" cy="243.9" r="1.3" fill="#3aa845" />
<circle cx="317.55" cy="240.6" r="1.3" fill="#3aa845" />
<circle cx="322.15" cy="236.5" r="1.3" fill="#3aa845" />
<circle cx="326.76" cy="231.2" r="1.3" fill="#3aa845" />
<circle cx="331.37" cy="225.5" r="1.3" fill="#3aa845" />
<path d="M276.11 262.9 L280.71 261.3 L285.31 260.2 L289.92 259.2 L294.52 257.5 L299.13 255.9 L303.74 254.4 L308.34 252 L312.94 249.5 L317.55 246.6 L322.15 242.5 L326.76 239.2 L331.37 234.7" fill="none" stroke="#1f3f73" stroke-width="1.1" />
<circle cx="276.11" cy="262.9" r="1.3" fill="#1f3f73" />
<circle cx="280.71" cy="261.3" r="1.3" fill="#1f3f73" />
<circle cx="285.31" cy="260.2" r="1.3" fill="#1f3f73" />
<circle cx="289.92" cy="259.2" r="1.3" fill="#1f3f73" />
<circle cx="294.52" cy="257.5" r="1.3" fill="#1f3f73" />
<circle cx="299.13" cy="255.9" r="1.3" fill="#1f3f73" />
<circle cx="303.74" cy="254.4" r="1.3" fill="#1f3f73" />
<circle cx="308.34" cy="252" r="1.3" fill="#1f3f73" />
<circle cx="312.94" cy="249.5" r="1.3" fill="#1f3f73" />
<circle cx="317.55" cy="246.6" r="1.3" fill="#1f3f73" />
<circle cx="322.15" cy="242.5" r="1.3" fill="#1f3f73" />
<circle cx="326.76" cy="239.2" r="1.3" fill="#1f3f73" />
<circle cx="331.37" cy="234.7" r="1.3" fill="#1f3f73" />
<path d="M299.13 257.6 L303.74 256.2 L308.34 255.4 L312.94 254.4 L317.55 253.4 L322.15 252.6 L326.76 251.6 L331.37 250.7" fill="none" stroke="#c5163c" stroke-width="1.1" />
<circle cx="299.13" cy="257.6" r="1.3" fill="#c5163c" />
<circle cx="303.74" cy="256.2" r="1.3" fill="#c5163c" />
<circle cx="308.34" cy="255.4" r="1.3" fill="#c5163c" />
<circle cx="312.94" cy="254.4" r="1.3" fill="#c5163c" />
<circle cx="317.55" cy="253.4" r="1.3" fill="#c5163c" />
<circle cx="322.15" cy="252.6" r="1.3" fill="#c5163c" />
<circle cx="326.76" cy="251.6" r="1.3" fill="#c5163c" />
<circle cx="331.37" cy="250.7" r="1.3" fill="#c5163c" />
<circle cx="271.8" cy="207.3" r="1.3" fill="#c3c8cf" />
<text x="277" y="209.7" font-size="6.4" fill="#333" textLength="19.3" lengthAdjust="spacingAndGlyphs" stroke="#333" stroke-width="0.12">DMSO</text>
<circle cx="271.8" cy="214.1" r="1.3" fill="#1f3f73" />
<text x="277" y="216.5" font-size="6.4" fill="#333" textLength="38" lengthAdjust="spacingAndGlyphs" stroke="#333" stroke-width="0.12">Dox + DMSO</text>
<circle cx="271.8" cy="220.9" r="1.3" fill="#3aa845" />
<text x="277" y="223.3" font-size="6.4" fill="#333" textLength="29.7" lengthAdjust="spacingAndGlyphs" stroke="#333" stroke-width="0.12">BTZ (1nM)</text>
<circle cx="271.8" cy="227.7" r="1.3" fill="#c5163c" />
<text x="277" y="230.1" font-size="6.4" fill="#333" textLength="30.5" lengthAdjust="spacingAndGlyphs" stroke="#333" stroke-width="0.12">Dox + BTZ</text>
<text x="277" y="236.9" font-size="6.4" fill="#333" textLength="17" lengthAdjust="spacingAndGlyphs" stroke="#333" stroke-width="0.12">(1nM)</text>
<text x="361.6" y="215.9" font-size="11" font-weight="bold" fill="#000">H</text>
<text x="405.5" y="217.6" font-size="6.6" text-anchor="middle" fill="#333" textLength="13" lengthAdjust="spacingAndGlyphs" stroke="#333" stroke-width="0.12">shSc</text>
<text x="435.3" y="217.6" font-size="6.6" text-anchor="middle" fill="#333" textLength="17.5" lengthAdjust="spacingAndGlyphs" stroke="#333" stroke-width="0.12">shAK2</text>
<text x="467.4" y="217.6" font-size="6.6" text-anchor="middle" fill="#333" textLength="13" lengthAdjust="spacingAndGlyphs" stroke="#333" stroke-width="0.12">shSc</text>
<text x="496.8" y="217.6" font-size="6.6" text-anchor="middle" fill="#333" textLength="17.5" lengthAdjust="spacingAndGlyphs" stroke="#333" stroke-width="0.12">shAK2</text>
<line x1="394.5" y1="220" x2="416.4" y2="220" stroke="#8a8a8a" stroke-width="1.0" />
<line x1="424.2" y1="220" x2="447.5" y2="220" stroke="#8a8a8a" stroke-width="1.0" />
<line x1="456.3" y1="220" x2="478.7" y2="220" stroke="#8a8a8a" stroke-width="1.0" />
<line x1="485.7" y1="220" x2="508" y2="220" stroke="#8a8a8a" stroke-width="1.0" />
<text x="387.3" y="226.8" font-size="7.1" text-anchor="end" fill="#333" textLength="11.11" lengthAdjust="spacingAndGlyphs" stroke="#333" stroke-width="0.12">Dox</text>
<text x="387.3" y="235.5" font-size="7.1" text-anchor="end" fill="#333" textLength="11.8" lengthAdjust="spacingAndGlyphs" stroke="#333" stroke-width="0.12">BTZ</text>
<line x1="395.6" y1="224.3" x2="398.8" y2="224.3" stroke="#333" stroke-width="0.75" />
<line x1="395.6" y1="233" x2="398.8" y2="233" stroke="#333" stroke-width="0.75" />
<line x1="411" y1="224.3" x2="414.2" y2="224.3" stroke="#333" stroke-width="0.75" />
<line x1="410.9" y1="233" x2="414.3" y2="233" stroke="#333" stroke-width="0.75" />
<line x1="412.6" y1="231.3" x2="412.6" y2="234.7" stroke="#333" stroke-width="0.75" />
<line x1="426.1" y1="224.3" x2="429.5" y2="224.3" stroke="#333" stroke-width="0.75" />
<line x1="427.8" y1="222.6" x2="427.8" y2="226" stroke="#333" stroke-width="0.75" />
<line x1="426.2" y1="233" x2="429.4" y2="233" stroke="#333" stroke-width="0.75" />
<line x1="441.1" y1="224.3" x2="444.5" y2="224.3" stroke="#333" stroke-width="0.75" />
<line x1="442.8" y1="222.6" x2="442.8" y2="226" stroke="#333" stroke-width="0.75" />
<line x1="441.1" y1="233" x2="444.5" y2="233" stroke="#333" stroke-width="0.75" />
<line x1="442.8" y1="231.3" x2="442.8" y2="234.7" stroke="#333" stroke-width="0.75" />
<line x1="457.4" y1="224.3" x2="460.6" y2="224.3" stroke="#333" stroke-width="0.75" />
<line x1="457.4" y1="233" x2="460.6" y2="233" stroke="#333" stroke-width="0.75" />
<line x1="473.4" y1="224.3" x2="476.6" y2="224.3" stroke="#333" stroke-width="0.75" />
<line x1="473.3" y1="233" x2="476.7" y2="233" stroke="#333" stroke-width="0.75" />
<line x1="475" y1="231.3" x2="475" y2="234.7" stroke="#333" stroke-width="0.75" />
<line x1="488.6" y1="224.3" x2="492" y2="224.3" stroke="#333" stroke-width="0.75" />
<line x1="490.3" y1="222.6" x2="490.3" y2="226" stroke="#333" stroke-width="0.75" />
<line x1="488.7" y1="233" x2="491.9" y2="233" stroke="#333" stroke-width="0.75" />
<line x1="503.3" y1="224.3" x2="506.7" y2="224.3" stroke="#333" stroke-width="0.75" />
<line x1="505" y1="222.6" x2="505" y2="226" stroke="#333" stroke-width="0.75" />
<line x1="503.3" y1="233" x2="506.7" y2="233" stroke="#333" stroke-width="0.75" />
<line x1="505" y1="231.3" x2="505" y2="234.7" stroke="#333" stroke-width="0.75" />
<rect x="390.9" y="236.6" width="59.3" height="12.8" fill="#e2e2e2" stroke="#5a5a5a" stroke-width="0.8"/>
<rect x="391.7" y="239.6" width="11" height="2" rx="1" fill="#151515" opacity="0.5" filter="url(#bl)"/>
<rect x="407.1" y="240.4" width="11" height="2" rx="1" fill="#151515" opacity="0.5" filter="url(#bl)"/>
<rect x="422.8" y="242" width="10" height="2" rx="1" fill="#151515" opacity="0.08" filter="url(#bl)"/>
<rect x="437.8" y="241.6" width="10" height="2" rx="1" fill="#151515" opacity="0.06" filter="url(#bl)"/>
<rect x="452.6" y="236.6" width="59.8" height="12.8" fill="#d8d8d8" stroke="#5a5a5a" stroke-width="0.8"/>
<rect x="453.5" y="241.2" width="11" height="2.6" rx="1.3" fill="#151515" opacity="0.95" filter="url(#bl)"/>
<rect x="469.5" y="242.1" width="11" height="2.6" rx="1.3" fill="#151515" opacity="0.95" filter="url(#bl)"/>
<rect x="500" y="242" width="10" height="2" rx="1" fill="#151515" opacity="0.06" filter="url(#bl)"/>
<text x="387.4" y="245.4" font-size="6.7" text-anchor="end" fill="#333" textLength="11.14" lengthAdjust="spacingAndGlyphs" stroke="#333" stroke-width="0.12">AK2</text>
<rect x="390.9" y="251.3" width="59.3" height="11.5" fill="#e6e6e6" stroke="#5a5a5a" stroke-width="0.8"/>
<rect x="407.1" y="253.6" width="11" height="2" rx="1" fill="#151515" opacity="0.55" filter="url(#bl)"/>
<rect x="423.3" y="254.85" width="9" height="1.5" rx="0.75" fill="#151515" opacity="0.08" filter="url(#bl)"/>
<rect x="436.8" y="254.9" width="12" height="2.6" rx="1.3" fill="#151515" opacity="0.95" filter="url(#bl)"/>
<rect x="452.6" y="251.3" width="59.8" height="11.5" fill="#dcdcdc" stroke="#5a5a5a" stroke-width="0.8"/>
<rect x="453.5" y="253.8" width="11" height="2" rx="1" fill="#151515" opacity="0.35" filter="url(#bl)"/>
<rect x="469.5" y="254" width="11" height="2" rx="1" fill="#151515" opacity="0.35" filter="url(#bl)"/>
<rect x="485.3" y="254.4" width="10" height="2" rx="1" fill="#151515" opacity="0.3" filter="url(#bl)"/>
<rect x="499.5" y="254.2" width="11" height="2" rx="1" fill="#151515" opacity="0.55" filter="url(#bl)"/>
<rect x="499.5" y="258.6" width="11" height="2" rx="1" fill="#151515" opacity="0.55" filter="url(#bl)"/>
<text x="387.4" y="259.45" font-size="6.7" text-anchor="end" fill="#333" textLength="21.51" lengthAdjust="spacingAndGlyphs" stroke="#333" stroke-width="0.12">C.PARP</text>
<rect x="390.9" y="264.7" width="59.3" height="11.3" fill="#b9b9b9" stroke="#5a5a5a" stroke-width="0.8"/>
<rect x="391.7" y="268.3" width="11" height="2.6" rx="1.3" fill="#151515" opacity="0.55" filter="url(#bl)"/>
<rect x="406.6" y="268.5" width="12" height="3" rx="1.5" fill="#151515" opacity="0.85" filter="url(#bl)"/>
<rect x="421.8" y="268.3" width="12" height="3" rx="1.5" fill="#151515" opacity="0.85" filter="url(#bl)"/>
<rect x="436.8" y="267.9" width="12" height="3.4" rx="1.5" fill="#151515" opacity="0.95" filter="url(#bl)"/>
<rect x="452.6" y="264.7" width="59.8" height="11.3" fill="#c4c4c4" stroke="#5a5a5a" stroke-width="0.8"/>
<rect x="454" y="267.8" width="10" height="2" rx="1" fill="#151515" opacity="0.25" filter="url(#bl)"/>
<rect x="469.5" y="268.9" width="11" height="2.2" rx="1.1" fill="#151515" opacity="0.4" filter="url(#bl)"/>
<rect x="485.3" y="269" width="10" height="2" rx="1" fill="#151515" opacity="0.3" filter="url(#bl)"/>
<rect x="499.5" y="267.2" width="11" height="2.4" rx="1.2" fill="#151515" opacity="0.45" filter="url(#bl)"/>
<text x="387.4" y="272.75" font-size="6.7" text-anchor="end" fill="#333" textLength="19.66" lengthAdjust="spacingAndGlyphs" stroke="#333" stroke-width="0.12">C.Cas3</text>
<rect x="390.9" y="277.9" width="59.3" height="12.1" fill="#e0e0e0" stroke="#5a5a5a" stroke-width="0.8"/>
<rect x="391.2" y="282.5" width="12" height="2.6" rx="1.3" fill="#151515" opacity="0.95" filter="url(#bl)"/>
<rect x="406.6" y="282.7" width="12" height="2.6" rx="1.3" fill="#151515" opacity="0.95" filter="url(#bl)"/>
<rect x="421.8" y="282.3" width="12" height="2.6" rx="1.3" fill="#151515" opacity="0.95" filter="url(#bl)"/>
<rect x="436.8" y="281.8" width="12" height="2.8" rx="1.4" fill="#151515" opacity="0.95" filter="url(#bl)"/>
<rect x="452.6" y="277.9" width="59.8" height="12.1" fill="#8c8c8c" stroke="#5a5a5a" stroke-width="0.8"/>
<rect x="453" y="283.4" width="12" height="2.8" rx="1.4" fill="#151515" opacity="0.95" filter="url(#bl)"/>
<rect x="469" y="283.6" width="12" height="2.8" rx="1.4" fill="#151515" opacity="0.95" filter="url(#bl)"/>
<rect x="484.8" y="283.5" width="11" height="2.6" rx="1.3" fill="#151515" opacity="0.9" filter="url(#bl)"/>
<rect x="499" y="282.7" width="12" height="3" rx="1.5" fill="#151515" opacity="0.95" filter="url(#bl)"/>
<text x="387.4" y="286.35" font-size="6.7" text-anchor="end" fill="#333" textLength="24.49" lengthAdjust="spacingAndGlyphs" stroke="#333" stroke-width="0.12">α-Tubulin</text>
<text x="420.5" y="298.8" font-size="6.7" text-anchor="middle" fill="#333" textLength="18" lengthAdjust="spacingAndGlyphs" stroke="#333" stroke-width="0.12">KMS11</text>
<text x="481.9" y="298.3" font-size="6.7" text-anchor="middle" fill="#333" textLength="10" lengthAdjust="spacingAndGlyphs" stroke="#333" stroke-width="0.12">LP1</text>
<text x="48.5" y="324.8" font-size="11" font-weight="bold" fill="#000">I</text>
<line x1="77.1" y1="334" x2="77.1" y2="434.3" stroke="#111" stroke-width="1.0" />
<line x1="77.1" y1="434.3" x2="151.3" y2="434.3" stroke="#111" stroke-width="1.0" />
<line x1="74.9" y1="434.3" x2="77.1" y2="434.3" stroke="#231f20" stroke-width="0.7" />
<text x="71" y="436.5" font-size="6.2" text-anchor="end" fill="#333" textLength="3.4" lengthAdjust="spacingAndGlyphs" stroke="#333" stroke-width="0.12">0</text>
<line x1="74.9" y1="414.7" x2="77.1" y2="414.7" stroke="#231f20" stroke-width="0.7" />
<text x="71" y="416.9" font-size="6.2" text-anchor="end" fill="#333" textLength="7" lengthAdjust="spacingAndGlyphs" stroke="#333" stroke-width="0.12">50</text>
<line x1="74.9" y1="395.1" x2="77.1" y2="395.1" stroke="#231f20" stroke-width="0.7" />
<text x="71" y="397.3" font-size="6.2" text-anchor="end" fill="#333" textLength="10.6" lengthAdjust="spacingAndGlyphs" stroke="#333" stroke-width="0.12">100</text>
<line x1="74.9" y1="375.5" x2="77.1" y2="375.5" stroke="#231f20" stroke-width="0.7" />
<text x="71" y="377.7" font-size="6.2" text-anchor="end" fill="#333" textLength="10.6" lengthAdjust="spacingAndGlyphs" stroke="#333" stroke-width="0.12">150</text>
<line x1="74.9" y1="355.9" x2="77.1" y2="355.9" stroke="#231f20" stroke-width="0.7" />
<text x="71" y="358.1" font-size="6.2" text-anchor="end" fill="#333" textLength="10.6" lengthAdjust="spacingAndGlyphs" stroke="#333" stroke-width="0.12">200</text>
<line x1="74.9" y1="336.3" x2="77.1" y2="336.3" stroke="#231f20" stroke-width="0.7" />
<text x="71" y="338.5" font-size="6.2" text-anchor="end" fill="#333" textLength="10.6" lengthAdjust="spacingAndGlyphs" stroke="#333" stroke-width="0.12">250</text>
<line x1="99" y1="434.3" x2="99" y2="436.3" stroke="#231f20" stroke-width="0.7" />
<line x1="130.4" y1="434.3" x2="130.4" y2="436.3" stroke="#231f20" stroke-width="0.7" />
<text x="55.2" y="386" font-size="6.4" text-anchor="middle" fill="#333" transform="rotate(-90 55.2 386)" textLength="35" lengthAdjust="spacingAndGlyphs" stroke="#333" stroke-width="0.12">AK2 FPKM</text>
<path d="M98.4 370 V344.5 H130.4 V347.5" fill="none" stroke="#333" stroke-width="0.6" />
<text x="114.6" y="341" font-size="6.0" text-anchor="middle" fill="#333" stroke="#333" stroke-width="0.12"><tspan font-style="italic">P</tspan> = .007</text>
<text x="100.8" y="443.3" font-size="6.2" text-anchor="end" fill="#333" transform="rotate(-45 100.8 443.3)" textLength="29" lengthAdjust="spacingAndGlyphs" stroke="#333" stroke-width="0.12">Sustained</text>
<text x="107.8" y="448.8" font-size="6.2" text-anchor="end" fill="#333" transform="rotate(-45 107.8 448.8)" textLength="27.5" lengthAdjust="spacingAndGlyphs" stroke="#333" stroke-width="0.12">Response</text>
<text x="132.4" y="444.3" font-size="6.2" text-anchor="end" fill="#333" transform="rotate(-45 132.4 444.3)" textLength="27.5" lengthAdjust="spacingAndGlyphs" stroke="#333" stroke-width="0.12">Relapsed/</text>
<text x="139.4" y="449.5" font-size="6.2" text-anchor="end" fill="#333" transform="rotate(-45 139.4 449.5)" textLength="26.5" lengthAdjust="spacingAndGlyphs" stroke="#333" stroke-width="0.12">PD/Dead</text>
<circle cx="98.4" cy="404.54" r="1.15" fill="#2ba6de" />
<circle cx="96.96" cy="404.66" r="1.15" fill="#2ba6de" />
<circle cx="98.4" cy="408.42" r="1.15" fill="#2ba6de" />
<circle cx="98.4" cy="390.3" r="1.15" fill="#2ba6de" />
<circle cx="98.4" cy="413.19" r="1.15" fill="#2ba6de" />
<circle cx="98.4" cy="401.34" r="1.15" fill="#2ba6de" />
<circle cx="98.4" cy="415.88" r="1.15" fill="#2ba6de" />
<circle cx="98.4" cy="394.73" r="1.15" fill="#2ba6de" />
<circle cx="97.47" cy="407.31" r="1.15" fill="#2ba6de" />
<circle cx="97.93" cy="403.17" r="1.15" fill="#2ba6de" />
<circle cx="99.69" cy="407.75" r="1.15" fill="#2ba6de" />
<circle cx="96.99" cy="412.85" r="1.15" fill="#2ba6de" />
<circle cx="96.39" cy="408.28" r="1.15" fill="#2ba6de" />
<circle cx="96.96" cy="401.47" r="1.15" fill="#2ba6de" />
<circle cx="98.48" cy="406.27" r="1.15" fill="#2ba6de" />
<circle cx="98.4" cy="378.67" r="1.15" fill="#2ba6de" />
<circle cx="98.4" cy="417.52" r="1.15" fill="#2ba6de" />
<circle cx="98.4" cy="399.51" r="1.15" fill="#2ba6de" />
<circle cx="97.6" cy="414.4" r="1.15" fill="#2ba6de" />
<circle cx="99.8" cy="415.5" r="1.15" fill="#2ba6de" />
<circle cx="98.4" cy="396.56" r="1.15" fill="#2ba6de" />
<circle cx="101.14" cy="407.69" r="1.15" fill="#2ba6de" />
<circle cx="96.99" cy="395.06" r="1.15" fill="#2ba6de" />
<circle cx="98.4" cy="411.18" r="1.15" fill="#2ba6de" />
<circle cx="96.97" cy="411.4" r="1.15" fill="#2ba6de" />
<circle cx="97.02" cy="399.05" r="1.15" fill="#2ba6de" />
<circle cx="97.8" cy="409.74" r="1.15" fill="#2ba6de" />
<circle cx="98.4" cy="382.15" r="1.15" fill="#2ba6de" />
<circle cx="99.25" cy="409.85" r="1.15" fill="#2ba6de" />
<circle cx="99.63" cy="400.57" r="1.15" fill="#2ba6de" />
<circle cx="100.64" cy="401.61" r="1.15" fill="#2ba6de" />
<circle cx="99.1" cy="397.84" r="1.15" fill="#2ba6de" />
<circle cx="97.12" cy="397.24" r="1.15" fill="#2ba6de" />
<circle cx="95.54" cy="401.14" r="1.15" fill="#2ba6de" />
<circle cx="99.37" cy="403.08" r="1.15" fill="#2ba6de" />
<circle cx="99.79" cy="404.96" r="1.15" fill="#2ba6de" />
<circle cx="100.1" cy="398.88" r="1.15" fill="#2ba6de" />
<circle cx="96.41" cy="403.32" r="1.15" fill="#2ba6de" />
<circle cx="98.4" cy="424.71" r="1.15" fill="#2ba6de" />
<circle cx="96.16" cy="406.7" r="1.15" fill="#2ba6de" />
<circle cx="100.58" cy="410.43" r="1.15" fill="#2ba6de" />
<circle cx="101.07" cy="399.96" r="1.15" fill="#2ba6de" />
<circle cx="96.38" cy="410.04" r="1.15" fill="#2ba6de" />
<circle cx="102.18" cy="400.9" r="1.15" fill="#2ba6de" />
<circle cx="94.71" cy="406.84" r="1.15" fill="#2ba6de" />
<circle cx="101.03" cy="404.22" r="1.15" fill="#2ba6de" />
<circle cx="95.84" cy="397.92" r="1.15" fill="#2ba6de" />
<circle cx="98.4" cy="372.6" r="1.15" fill="#2ba6de" />
<circle cx="94.41" cy="400.24" r="1.15" fill="#2ba6de" />
<circle cx="94.96" cy="410.29" r="1.15" fill="#2ba6de" />
<circle cx="98.4" cy="386.84" r="1.15" fill="#2ba6de" />
<circle cx="103.61" cy="400.64" r="1.15" fill="#2ba6de" />
<circle cx="99.81" cy="396.23" r="1.15" fill="#2ba6de" />
<circle cx="97.34" cy="387.83" r="1.15" fill="#2ba6de" />
<circle cx="95.28" cy="404.22" r="1.15" fill="#2ba6de" />
<circle cx="97.02" cy="417.07" r="1.15" fill="#2ba6de" />
<circle cx="94.25" cy="401.8" r="1.15" fill="#2ba6de" />
<circle cx="92.97" cy="400.38" r="1.15" fill="#2ba6de" />
<circle cx="100.25" cy="394.85" r="1.15" fill="#2ba6de" />
<circle cx="99.56" cy="418.39" r="1.15" fill="#2ba6de" />
<circle cx="105.05" cy="400.73" r="1.15" fill="#2ba6de" />
<circle cx="102.59" cy="402.29" r="1.15" fill="#2ba6de" />
<circle cx="100.67" cy="397.55" r="1.15" fill="#2ba6de" />
<circle cx="95.9" cy="396.01" r="1.15" fill="#2ba6de" />
<circle cx="92.81" cy="401.98" r="1.15" fill="#2ba6de" />
<circle cx="102.47" cy="404.06" r="1.15" fill="#2ba6de" />
<circle cx="101.7" cy="409.51" r="1.15" fill="#2ba6de" />
<circle cx="94.02" cy="403.5" r="1.15" fill="#2ba6de" />
<circle cx="98.4" cy="392.62" r="1.15" fill="#2ba6de" />
<circle cx="95.87" cy="417.94" r="1.15" fill="#2ba6de" />
<circle cx="102.68" cy="410.59" r="1.15" fill="#2ba6de" />
<circle cx="96.34" cy="415.11" r="1.15" fill="#2ba6de" />
<circle cx="93.6" cy="410.8" r="1.15" fill="#2ba6de" />
<circle cx="102.56" cy="407.97" r="1.15" fill="#2ba6de" />
<circle cx="93.96" cy="408.09" r="1.15" fill="#2ba6de" />
<circle cx="97.22" cy="391.14" r="1.15" fill="#2ba6de" />
<circle cx="104" cy="408.14" r="1.15" fill="#2ba6de" />
<circle cx="104.03" cy="402.43" r="1.15" fill="#2ba6de" />
<circle cx="99.81" cy="413.54" r="1.15" fill="#2ba6de" />
<circle cx="100.98" cy="405.78" r="1.15" fill="#2ba6de" />
<circle cx="91.54" cy="402.68" r="1.15" fill="#2ba6de" />
<circle cx="94.26" cy="405.47" r="1.15" fill="#2ba6de" />
<circle cx="102.11" cy="397.66" r="1.15" fill="#2ba6de" />
<circle cx="99.63" cy="391.85" r="1.15" fill="#2ba6de" />
<circle cx="104.8" cy="403.66" r="1.15" fill="#2ba6de" />
<circle cx="100.81" cy="412.49" r="1.15" fill="#2ba6de" />
<circle cx="102.25" cy="399.12" r="1.15" fill="#2ba6de" />
<circle cx="98.4" cy="421.29" r="1.15" fill="#2ba6de" />
<circle cx="100.89" cy="414.55" r="1.15" fill="#2ba6de" />
<circle cx="101.08" cy="416.19" r="1.15" fill="#2ba6de" />
<circle cx="94.46" cy="398.37" r="1.15" fill="#2ba6de" />
<circle cx="93.05" cy="406.96" r="1.15" fill="#2ba6de" />
<circle cx="105.05" cy="407.14" r="1.15" fill="#2ba6de" />
<circle cx="92.75" cy="408.88" r="1.15" fill="#2ba6de" />
<circle cx="103.74" cy="404.76" r="1.15" fill="#2ba6de" />
<circle cx="95.72" cy="394.35" r="1.15" fill="#2ba6de" />
<circle cx="91.72" cy="407.56" r="1.15" fill="#2ba6de" />
<circle cx="99.81" cy="389.95" r="1.15" fill="#2ba6de" />
<circle cx="97.72" cy="385.55" r="1.15" fill="#2ba6de" />
<circle cx="92.9" cy="404.42" r="1.15" fill="#2ba6de" />
<circle cx="99.16" cy="388.07" r="1.15" fill="#2ba6de" />
<circle cx="94.49" cy="396.37" r="1.15" fill="#2ba6de" />
<circle cx="102.43" cy="405.9" r="1.15" fill="#2ba6de" />
<circle cx="105.16" cy="405.08" r="1.15" fill="#2ba6de" />
<circle cx="91.67" cy="401.03" r="1.15" fill="#2ba6de" />
<circle cx="106.14" cy="401.7" r="1.15" fill="#2ba6de" />
<circle cx="90.66" cy="403.83" r="1.15" fill="#2ba6de" />
<circle cx="103.68" cy="406.62" r="1.15" fill="#2ba6de" />
<circle cx="103.65" cy="398.74" r="1.15" fill="#2ba6de" />
<circle cx="90.3" cy="401.92" r="1.15" fill="#2ba6de" />
<circle cx="91.99" cy="399.31" r="1.15" fill="#2ba6de" />
<circle cx="91.54" cy="406.12" r="1.15" fill="#2ba6de" />
<circle cx="98.4" cy="419.43" r="1.15" fill="#2ba6de" />
<circle cx="106.25" cy="403.73" r="1.15" fill="#2ba6de" />
<circle cx="103.46" cy="397.12" r="1.15" fill="#2ba6de" />
<circle cx="101.38" cy="395.75" r="1.15" fill="#2ba6de" />
<circle cx="97.1" cy="420.07" r="1.15" fill="#2ba6de" />
<circle cx="95.64" cy="412.32" r="1.15" fill="#2ba6de" />
<circle cx="97.09" cy="393.25" r="1.15" fill="#2ba6de" />
<circle cx="90.37" cy="405.26" r="1.15" fill="#2ba6de" />
<circle cx="104.82" cy="409.34" r="1.15" fill="#2ba6de" />
<circle cx="106.5" cy="405.62" r="1.15" fill="#2ba6de" />
<circle cx="105.04" cy="398.33" r="1.15" fill="#2ba6de" />
<circle cx="89.48" cy="406.4" r="1.15" fill="#2ba6de" />
<circle cx="104.09" cy="410.91" r="1.15" fill="#2ba6de" />
<circle cx="101.36" cy="393.91" r="1.15" fill="#2ba6de" />
<circle cx="95.57" cy="413.88" r="1.15" fill="#2ba6de" />
<circle cx="107.53" cy="402.1" r="1.15" fill="#2ba6de" />
<circle cx="107.95" cy="405.55" r="1.15" fill="#2ba6de" />
<circle cx="89.28" cy="403.36" r="1.15" fill="#2ba6de" />
<circle cx="98.4" cy="384.24" r="1.15" fill="#2ba6de" />
<circle cx="90.89" cy="408.75" r="1.15" fill="#2ba6de" />
<circle cx="106.26" cy="409.11" r="1.15" fill="#2ba6de" />
<circle cx="88.12" cy="402.5" r="1.15" fill="#2ba6de" />
<circle cx="88.69" cy="405.18" r="1.15" fill="#2ba6de" />
<circle cx="102.81" cy="395.49" r="1.15" fill="#2ba6de" />
<circle cx="89.45" cy="408.67" r="1.15" fill="#2ba6de" />
<circle cx="95.62" cy="399.42" r="1.15" fill="#2ba6de" />
<circle cx="88.04" cy="406.52" r="1.15" fill="#2ba6de" />
<circle cx="90.64" cy="399.84" r="1.15" fill="#2ba6de" />
<circle cx="93.46" cy="395.35" r="1.15" fill="#2ba6de" />
<circle cx="107.68" cy="403.92" r="1.15" fill="#2ba6de" />
<circle cx="106.04" cy="399.67" r="1.15" fill="#2ba6de" />
<circle cx="109.24" cy="404.88" r="1.15" fill="#2ba6de" />
<circle cx="102.05" cy="413.25" r="1.15" fill="#2ba6de" />
<circle cx="107.7" cy="409.22" r="1.15" fill="#2ba6de" />
<circle cx="90" cy="398.54" r="1.15" fill="#2ba6de" />
<circle cx="106.47" cy="407.43" r="1.15" fill="#2ba6de" />
<circle cx="94.2" cy="412.17" r="1.15" fill="#2ba6de" />
<circle cx="107.4" cy="400.18" r="1.15" fill="#2ba6de" />
<circle cx="96.24" cy="388.77" r="1.15" fill="#2ba6de" />
<circle cx="92.36" cy="411.56" r="1.15" fill="#2ba6de" />
<circle cx="97.37" cy="381.12" r="1.15" fill="#2ba6de" />
<circle cx="93.17" cy="396.97" r="1.15" fill="#2ba6de" />
<circle cx="89.03" cy="401.22" r="1.15" fill="#2ba6de" />
<circle cx="105.27" cy="411.76" r="1.15" fill="#2ba6de" />
<circle cx="86.68" cy="406" r="1.15" fill="#2ba6de" />
<circle cx="106.48" cy="398.2" r="1.15" fill="#2ba6de" />
<circle cx="97.29" cy="422.22" r="1.15" fill="#2ba6de" />
<circle cx="108.8" cy="402.99" r="1.15" fill="#2ba6de" />
<circle cx="99.46" cy="393.61" r="1.15" fill="#2ba6de" />
<circle cx="94.5" cy="393.56" r="1.15" fill="#2ba6de" />
<circle cx="86.7" cy="402.83" r="1.15" fill="#2ba6de" />
<circle cx="100.82" cy="391.02" r="1.15" fill="#2ba6de" />
<circle cx="88.18" cy="400.05" r="1.15" fill="#2ba6de" />
<circle cx="104.86" cy="396.75" r="1.15" fill="#2ba6de" />
<circle cx="110.19" cy="402.59" r="1.15" fill="#2ba6de" />
<circle cx="95.91" cy="392.41" r="1.15" fill="#2ba6de" />
<circle cx="130.6" cy="409.99" r="1.15" fill="#5b1a6a" />
<circle cx="130.6" cy="403.83" r="1.15" fill="#5b1a6a" />
<circle cx="130.6" cy="397.08" r="1.15" fill="#5b1a6a" />
<circle cx="129.44" cy="402.95" r="1.15" fill="#5b1a6a" />
<circle cx="129.42" cy="404.67" r="1.15" fill="#5b1a6a" />
<circle cx="130.6" cy="393.1" r="1.15" fill="#5b1a6a" />
<circle cx="130.6" cy="405.86" r="1.15" fill="#5b1a6a" />
<circle cx="130.6" cy="390.11" r="1.15" fill="#5b1a6a" />
<circle cx="129.33" cy="406.56" r="1.15" fill="#5b1a6a" />
<circle cx="130.6" cy="394.6" r="1.15" fill="#5b1a6a" />
<circle cx="130.6" cy="401.8" r="1.15" fill="#5b1a6a" />
<circle cx="129.22" cy="394.16" r="1.15" fill="#5b1a6a" />
<circle cx="132.02" cy="394.9" r="1.15" fill="#5b1a6a" />
<circle cx="132.03" cy="406.11" r="1.15" fill="#5b1a6a" />
<circle cx="130.6" cy="384.45" r="1.15" fill="#5b1a6a" />
<circle cx="130.6" cy="399.87" r="1.15" fill="#5b1a6a" />
<circle cx="130.6" cy="414.59" r="1.15" fill="#5b1a6a" />
<circle cx="129.77" cy="391.3" r="1.15" fill="#5b1a6a" />
<circle cx="130.6" cy="407.68" r="1.15" fill="#5b1a6a" />
<circle cx="130.6" cy="365.61" r="1.15" fill="#5b1a6a" />
<circle cx="130.6" cy="421.31" r="1.15" fill="#5b1a6a" />
<circle cx="130.6" cy="382.04" r="1.15" fill="#5b1a6a" />
<circle cx="129.37" cy="413.83" r="1.15" fill="#5b1a6a" />
<circle cx="131.91" cy="403.2" r="1.15" fill="#5b1a6a" />
<circle cx="130.6" cy="416.96" r="1.15" fill="#5b1a6a" />
<circle cx="129.65" cy="380.95" r="1.15" fill="#5b1a6a" />
<circle cx="131.21" cy="391.49" r="1.15" fill="#5b1a6a" />
<circle cx="129.36" cy="399.12" r="1.15" fill="#5b1a6a" />
<circle cx="131.86" cy="399.15" r="1.15" fill="#5b1a6a" />
<circle cx="129.54" cy="395.59" r="1.15" fill="#5b1a6a" />
<circle cx="128.11" cy="395.09" r="1.15" fill="#5b1a6a" />
<circle cx="130.6" cy="386.91" r="1.15" fill="#5b1a6a" />
<circle cx="129.5" cy="410.94" r="1.15" fill="#5b1a6a" />
<circle cx="132.28" cy="392.47" r="1.15" fill="#5b1a6a" />
<circle cx="130.6" cy="412.52" r="1.15" fill="#5b1a6a" />
<circle cx="129.35" cy="415.32" r="1.15" fill="#5b1a6a" />
<circle cx="132.05" cy="401.76" r="1.15" fill="#5b1a6a" />
<circle cx="129.43" cy="409.13" r="1.15" fill="#5b1a6a" />
<circle cx="129.67" cy="420.2" r="1.15" fill="#5b1a6a" />
<circle cx="128.29" cy="402.07" r="1.15" fill="#5b1a6a" />
<circle cx="129.28" cy="421.91" r="1.15" fill="#5b1a6a" />
<circle cx="128.24" cy="405.52" r="1.15" fill="#5b1a6a" />
<circle cx="130.6" cy="359.59" r="1.15" fill="#5b1a6a" />
<circle cx="128.22" cy="403.74" r="1.15" fill="#5b1a6a" />
<circle cx="131.52" cy="411.41" r="1.15" fill="#5b1a6a" />
<circle cx="128.09" cy="398.42" r="1.15" fill="#5b1a6a" />
<circle cx="129.36" cy="382.79" r="1.15" fill="#5b1a6a" />
<circle cx="128.36" cy="400.16" r="1.15" fill="#5b1a6a" />
<circle cx="131.69" cy="415.56" r="1.15" fill="#5b1a6a" />
<circle cx="131.88" cy="413.92" r="1.15" fill="#5b1a6a" />
<circle cx="131.82" cy="408.46" r="1.15" fill="#5b1a6a" />
<circle cx="133.33" cy="406.74" r="1.15" fill="#5b1a6a" />
<circle cx="130.6" cy="368.7" r="1.15" fill="#5b1a6a" />
<circle cx="132.62" cy="397.91" r="1.15" fill="#5b1a6a" />
<circle cx="133.2" cy="395.74" r="1.15" fill="#5b1a6a" />
<circle cx="131.77" cy="420.45" r="1.15" fill="#5b1a6a" />
<circle cx="126.72" cy="395.52" r="1.15" fill="#5b1a6a" />
<circle cx="133.29" cy="399.4" r="1.15" fill="#5b1a6a" />
<circle cx="129.25" cy="389.59" r="1.15" fill="#5b1a6a" />
<circle cx="132.61" cy="409.67" r="1.15" fill="#5b1a6a" />
<circle cx="132.98" cy="414.91" r="1.15" fill="#5b1a6a" />
<circle cx="134.34" cy="405.7" r="1.15" fill="#5b1a6a" />
<circle cx="132.55" cy="412.63" r="1.15" fill="#5b1a6a" />
<circle cx="133.33" cy="403.5" r="1.15" fill="#5b1a6a" />
<circle cx="130.6" cy="374.16" r="1.15" fill="#5b1a6a" />
<circle cx="134.06" cy="398.17" r="1.15" fill="#5b1a6a" />
<circle cx="130.6" cy="352.28" r="1.15" fill="#5b1a6a" />
<circle cx="128.05" cy="407.25" r="1.15" fill="#5b1a6a" />
<circle cx="133.95" cy="408.05" r="1.15" fill="#5b1a6a" />
<circle cx="129.23" cy="417.45" r="1.15" fill="#5b1a6a" />
<circle cx="134.01" cy="402.22" r="1.15" fill="#5b1a6a" />
<circle cx="128.03" cy="408.76" r="1.15" fill="#5b1a6a" />
<circle cx="131.89" cy="417.63" r="1.15" fill="#5b1a6a" />
<circle cx="126.73" cy="408.12" r="1.15" fill="#5b1a6a" />
<circle cx="134.6" cy="396.11" r="1.15" fill="#5b1a6a" />
<circle cx="135.85" cy="395.38" r="1.15" fill="#5b1a6a" />
<circle cx="133.6" cy="400.81" r="1.15" fill="#5b1a6a" />
<circle cx="135.36" cy="408.4" r="1.15" fill="#5b1a6a" />
<circle cx="125.44" cy="396.2" r="1.15" fill="#5b1a6a" />
<circle cx="126.84" cy="406.45" r="1.15" fill="#5b1a6a" />
<circle cx="128.08" cy="414.49" r="1.15" fill="#5b1a6a" />
<circle cx="130.78" cy="419.27" r="1.15" fill="#5b1a6a" />
<circle cx="128.36" cy="391.62" r="1.15" fill="#5b1a6a" />
<circle cx="129.95" cy="388.21" r="1.15" fill="#5b1a6a" />
<circle cx="129.18" cy="397.37" r="1.15" fill="#5b1a6a" />
<circle cx="126.96" cy="399.33" r="1.15" fill="#5b1a6a" />
<circle cx="134.81" cy="400.01" r="1.15" fill="#5b1a6a" />
<circle cx="127.01" cy="404.53" r="1.15" fill="#5b1a6a" />
<circle cx="133.87" cy="394.45" r="1.15" fill="#5b1a6a" />
<circle cx="126.34" cy="398.02" r="1.15" fill="#5b1a6a" />
<circle cx="135.33" cy="397.46" r="1.15" fill="#5b1a6a" />
<circle cx="131.48" cy="388.96" r="1.15" fill="#5b1a6a" />
<circle cx="128.55" cy="412.03" r="1.15" fill="#5b1a6a" />
<circle cx="130.6" cy="356.06" r="1.15" fill="#5b1a6a" />
<circle cx="130.6" cy="378.66" r="1.15" fill="#5b1a6a" />
<circle cx="132.88" cy="416.37" r="1.15" fill="#5b1a6a" />
<circle cx="135.95" cy="398.77" r="1.15" fill="#5b1a6a" />
<circle cx="127.98" cy="416.72" r="1.15" fill="#5b1a6a" />
<circle cx="134.3" cy="416.08" r="1.15" fill="#5b1a6a" />
<circle cx="127.83" cy="396.83" r="1.15" fill="#5b1a6a" />
<circle cx="125.41" cy="407.52" r="1.15" fill="#5b1a6a" />
<circle cx="125.71" cy="405.55" r="1.15" fill="#5b1a6a" />
<circle cx="129.2" cy="355.69" r="1.15" fill="#5b1a6a" />
<circle cx="124.96" cy="398.47" r="1.15" fill="#5b1a6a" />
<circle cx="125.96" cy="394.28" r="1.15" fill="#5b1a6a" />
<circle cx="132.7" cy="419.34" r="1.15" fill="#5b1a6a" />
<circle cx="126.84" cy="402.15" r="1.15" fill="#5b1a6a" />
<circle cx="124.61" cy="394.82" r="1.15" fill="#5b1a6a" />
<circle cx="133.93" cy="412.2" r="1.15" fill="#5b1a6a" />
<circle cx="137.33" cy="398.34" r="1.15" fill="#5b1a6a" />
<circle cx="127.25" cy="413.3" r="1.15" fill="#5b1a6a" />
<circle cx="135.24" cy="406.84" r="1.15" fill="#5b1a6a" />
<circle cx="124.22" cy="399.71" r="1.15" fill="#5b1a6a" />
<circle cx="128.2" cy="410.31" r="1.15" fill="#5b1a6a" />
<circle cx="125.93" cy="401.02" r="1.15" fill="#5b1a6a" />
<circle cx="136.22" cy="400.35" r="1.15" fill="#5b1a6a" />
<circle cx="130.6" cy="376.61" r="1.15" fill="#5b1a6a" />
<circle cx="136.54" cy="406.21" r="1.15" fill="#5b1a6a" />
<circle cx="135.44" cy="402.43" r="1.15" fill="#5b1a6a" />
<circle cx="134.68" cy="413.44" r="1.15" fill="#5b1a6a" />
<circle cx="124.33" cy="405.11" r="1.15" fill="#5b1a6a" />
<circle cx="128.12" cy="393.21" r="1.15" fill="#5b1a6a" />
<circle cx="134.59" cy="404.21" r="1.15" fill="#5b1a6a" />
<circle cx="136.02" cy="404.44" r="1.15" fill="#5b1a6a" />
<circle cx="137.68" cy="405.31" r="1.15" fill="#5b1a6a" />
<circle cx="123.21" cy="398.67" r="1.15" fill="#5b1a6a" />
<circle cx="138.19" cy="399.5" r="1.15" fill="#5b1a6a" />
<circle cx="124.49" cy="401.23" r="1.15" fill="#5b1a6a" />
<circle cx="131.94" cy="396.51" r="1.15" fill="#5b1a6a" />
<circle cx="122.88" cy="405.24" r="1.15" fill="#5b1a6a" />
<circle cx="124.14" cy="397.28" r="1.15" fill="#5b1a6a" />
<circle cx="125.81" cy="413.15" r="1.15" fill="#5b1a6a" />
<circle cx="131.65" cy="379.66" r="1.15" fill="#5b1a6a" />
<circle cx="125.68" cy="403.95" r="1.15" fill="#5b1a6a" />
<circle cx="128.3" cy="418.56" r="1.15" fill="#5b1a6a" />
<circle cx="135.25" cy="394" r="1.15" fill="#5b1a6a" />
<circle cx="122.94" cy="400.4" r="1.15" fill="#5b1a6a" />
<circle cx="130.6" cy="372.35" r="1.15" fill="#5b1a6a" />
<circle cx="123.98" cy="407.28" r="1.15" fill="#5b1a6a" />
<circle cx="124.96" cy="402.69" r="1.15" fill="#5b1a6a" />
<circle cx="136.8" cy="408.59" r="1.15" fill="#5b1a6a" />
<circle cx="127.13" cy="411.72" r="1.15" fill="#5b1a6a" />
<circle cx="137.53" cy="400.98" r="1.15" fill="#5b1a6a" />
<circle cx="137.16" cy="396.01" r="1.15" fill="#5b1a6a" />
<circle cx="136.89" cy="402.55" r="1.15" fill="#5b1a6a" />
<circle cx="134.82" cy="411.05" r="1.15" fill="#5b1a6a" />
<circle cx="136.62" cy="393.52" r="1.15" fill="#5b1a6a" />
<circle cx="130.6" cy="424.15" r="1.15" fill="#5b1a6a" />
<circle cx="138.38" cy="404.04" r="1.15" fill="#5b1a6a" />
<circle cx="123.03" cy="396.34" r="1.15" fill="#5b1a6a" />
<circle cx="121.96" cy="404.13" r="1.15" fill="#5b1a6a" />
<circle cx="137.66" cy="407.42" r="1.15" fill="#5b1a6a" />
<circle cx="125.82" cy="409.25" r="1.15" fill="#5b1a6a" />
<circle cx="138.9" cy="401.45" r="1.15" fill="#5b1a6a" />
<circle cx="132.72" cy="404.83" r="1.15" fill="#5b1a6a" />
<circle cx="133.71" cy="392.72" r="1.15" fill="#5b1a6a" />
<circle cx="132.9" cy="389.26" r="1.15" fill="#5b1a6a" />
<circle cx="138.57" cy="397.58" r="1.15" fill="#5b1a6a" />
<circle cx="127" cy="415.65" r="1.15" fill="#5b1a6a" />
<circle cx="123.69" cy="393.69" r="1.15" fill="#5b1a6a" />
<circle cx="123.21" cy="401.91" r="1.15" fill="#5b1a6a" />
<circle cx="121.78" cy="398.91" r="1.15" fill="#5b1a6a" />
<circle cx="125.77" cy="411.23" r="1.15" fill="#5b1a6a" />
<circle cx="121.5" cy="400.55" r="1.15" fill="#5b1a6a" />
<circle cx="136.2" cy="411.48" r="1.15" fill="#5b1a6a" />
<circle cx="132.52" cy="390.87" r="1.15" fill="#5b1a6a" />
<circle cx="129.74" cy="375.44" r="1.15" fill="#5b1a6a" />
<circle cx="122.69" cy="407.94" r="1.15" fill="#5b1a6a" />
<circle cx="129.23" cy="386.44" r="1.15" fill="#5b1a6a" />
<circle cx="131.41" cy="383.24" r="1.15" fill="#5b1a6a" />
<circle cx="140.33" cy="401.24" r="1.15" fill="#5b1a6a" />
<circle cx="127.03" cy="392.26" r="1.15" fill="#5b1a6a" />
<circle cx="139.58" cy="404.86" r="1.15" fill="#5b1a6a" />
<circle cx="138.05" cy="393.73" r="1.15" fill="#5b1a6a" />
<circle cx="135.98" cy="414.08" r="1.15" fill="#5b1a6a" />
<circle cx="132.71" cy="383.89" r="1.15" fill="#5b1a6a" />
<circle cx="131.94" cy="387.47" r="1.15" fill="#5b1a6a" />
<circle cx="121.54" cy="405.8" r="1.15" fill="#5b1a6a" />
<circle cx="140.42" cy="406.04" r="1.15" fill="#5b1a6a" />
<circle cx="131.51" cy="385.58" r="1.15" fill="#5b1a6a" />
<circle cx="124.66" cy="410.11" r="1.15" fill="#5b1a6a" />
<circle cx="123.94" cy="408.85" r="1.15" fill="#5b1a6a" />
<circle cx="134.06" cy="409.54" r="1.15" fill="#5b1a6a" />
<circle cx="120.49" cy="401.59" r="1.15" fill="#5b1a6a" />
<circle cx="120.32" cy="405.02" r="1.15" fill="#5b1a6a" />
<circle cx="121.65" cy="396.78" r="1.15" fill="#5b1a6a" />
<circle cx="138.72" cy="406.32" r="1.15" fill="#5b1a6a" />
<circle cx="124.49" cy="411.91" r="1.15" fill="#5b1a6a" />
<circle cx="125.52" cy="392.9" r="1.15" fill="#5b1a6a" />
<circle cx="138.6" cy="395.91" r="1.15" fill="#5b1a6a" />
<circle cx="141.69" cy="400.73" r="1.15" fill="#5b1a6a" />
<circle cx="140" cy="397.83" r="1.15" fill="#5b1a6a" />
<circle cx="138.17" cy="409.06" r="1.15" fill="#5b1a6a" />
<circle cx="123.67" cy="403.36" r="1.15" fill="#5b1a6a" />
<circle cx="119.05" cy="401.42" r="1.15" fill="#5b1a6a" />
<circle cx="137.49" cy="410.82" r="1.15" fill="#5b1a6a" />
<circle cx="123.23" cy="410.4" r="1.15" fill="#5b1a6a" />
<circle cx="139.38" cy="402.99" r="1.15" fill="#5b1a6a" />
<circle cx="140.94" cy="404.37" r="1.15" fill="#5b1a6a" />
<circle cx="120.9" cy="403.13" r="1.15" fill="#5b1a6a" />
<circle cx="120.22" cy="397.03" r="1.15" fill="#5b1a6a" />
<circle cx="120.14" cy="400.06" r="1.15" fill="#5b1a6a" />
<circle cx="134.99" cy="392.05" r="1.15" fill="#5b1a6a" />
<circle cx="141.12" cy="402.45" r="1.15" fill="#5b1a6a" />
<circle cx="139.63" cy="399.69" r="1.15" fill="#5b1a6a" />
<circle cx="141.44" cy="397.72" r="1.15" fill="#5b1a6a" />
<circle cx="119.54" cy="403.61" r="1.15" fill="#5b1a6a" />
<circle cx="135.64" cy="409.86" r="1.15" fill="#5b1a6a" />
<circle cx="138.93" cy="410.65" r="1.15" fill="#5b1a6a" />
<circle cx="129.31" cy="377.27" r="1.15" fill="#5b1a6a" />
<circle cx="136.78" cy="412.86" r="1.15" fill="#5b1a6a" />
<circle cx="142.52" cy="402.83" r="1.15" fill="#5b1a6a" />
<circle cx="139.38" cy="408.26" r="1.15" fill="#5b1a6a" />
<circle cx="120.97" cy="407.13" r="1.15" fill="#5b1a6a" />
<circle cx="129.57" cy="371.33" r="1.15" fill="#5b1a6a" />
<circle cx="128.29" cy="388.5" r="1.15" fill="#5b1a6a" />
<circle cx="122.19" cy="409.39" r="1.15" fill="#5b1a6a" />
<circle cx="122.18" cy="395.17" r="1.15" fill="#5b1a6a" />
<circle cx="143.13" cy="400.58" r="1.15" fill="#5b1a6a" />
<circle cx="140.75" cy="407.8" r="1.15" fill="#5b1a6a" />
<circle cx="119.21" cy="398.94" r="1.15" fill="#5b1a6a" />
<circle cx="133.47" cy="418.11" r="1.15" fill="#5b1a6a" />
<circle cx="119.53" cy="407.02" r="1.15" fill="#5b1a6a" />
<circle cx="129.24" cy="384.95" r="1.15" fill="#5b1a6a" />
<circle cx="131.18" cy="422.82" r="1.15" fill="#5b1a6a" />
<circle cx="129.41" cy="424.98" r="1.15" fill="#5b1a6a" />
<circle cx="142.33" cy="396.57" r="1.15" fill="#5b1a6a" />
<circle cx="127.56" cy="390.41" r="1.15" fill="#5b1a6a" />
<line x1="85.5" y1="403.3" x2="111.9" y2="403.3" stroke="#222" stroke-width="0.9" />
<line x1="117.7" y1="401.4" x2="144.2" y2="401.4" stroke="#222" stroke-width="0.9" />
<text x="167.7" y="324.4" font-size="11" font-weight="bold" fill="#000">J</text>
<line x1="194.6" y1="331" x2="194.6" y2="434.2" stroke="#111" stroke-width="1.0" />
<line x1="194.6" y1="434.2" x2="348" y2="434.2" stroke="#111" stroke-width="1.0" />
<line x1="191.6" y1="434.2" x2="194.6" y2="434.2" stroke="#231f20" stroke-width="0.7" />
<text x="188.4" y="436.6" font-size="6.7" text-anchor="end" fill="#333" textLength="3.28" lengthAdjust="spacingAndGlyphs" stroke="#333" stroke-width="0.12">0</text>
<line x1="191.6" y1="414.3" x2="194.6" y2="414.3" stroke="#231f20" stroke-width="0.7" />
<text x="188.4" y="416.7" font-size="6.7" text-anchor="end" fill="#333" textLength="8.2" lengthAdjust="spacingAndGlyphs" stroke="#333" stroke-width="0.12">0.2</text>
<line x1="191.6" y1="394.4" x2="194.6" y2="394.4" stroke="#231f20" stroke-width="0.7" />
<text x="188.4" y="396.8" font-size="6.7" text-anchor="end" fill="#333" textLength="8.2" lengthAdjust="spacingAndGlyphs" stroke="#333" stroke-width="0.12">0.4</text>
<line x1="191.6" y1="374.5" x2="194.6" y2="374.5" stroke="#231f20" stroke-width="0.7" />
<text x="188.4" y="376.9" font-size="6.7" text-anchor="end" fill="#333" textLength="8.2" lengthAdjust="spacingAndGlyphs" stroke="#333" stroke-width="0.12">0.6</text>
<line x1="191.6" y1="354.6" x2="194.6" y2="354.6" stroke="#231f20" stroke-width="0.7" />
<text x="188.4" y="357" font-size="6.7" text-anchor="end" fill="#333" textLength="8.2" lengthAdjust="spacingAndGlyphs" stroke="#333" stroke-width="0.12">0.8</text>
<line x1="191.6" y1="334.7" x2="194.6" y2="334.7" stroke="#231f20" stroke-width="0.7" />
<text x="188.4" y="337.1" font-size="6.7" text-anchor="end" fill="#333" textLength="3.28" lengthAdjust="spacingAndGlyphs" stroke="#333" stroke-width="0.12">1</text>
<line x1="194.6" y1="434.2" x2="194.6" y2="436.4" stroke="#231f20" stroke-width="0.7" />
<text x="194.6" y="445" font-size="6.8" text-anchor="middle" fill="#333" textLength="3.6" lengthAdjust="spacingAndGlyphs" stroke="#333" stroke-width="0.12">0</text>
<line x1="217.45" y1="434.2" x2="217.45" y2="436.4" stroke="#231f20" stroke-width="0.7" />
<text x="217.45" y="445" font-size="6.8" text-anchor="middle" fill="#333" textLength="10.5" lengthAdjust="spacingAndGlyphs" stroke="#333" stroke-width="0.12">500</text>
<line x1="240.3" y1="434.2" x2="240.3" y2="436.4" stroke="#231f20" stroke-width="0.7" />
<text x="240.3" y="445" font-size="6.8" text-anchor="middle" fill="#333" textLength="14.2" lengthAdjust="spacingAndGlyphs" stroke="#333" stroke-width="0.12">1000</text>
<line x1="263.15" y1="434.2" x2="263.15" y2="436.4" stroke="#231f20" stroke-width="0.7" />
<text x="263.15" y="445" font-size="6.8" text-anchor="middle" fill="#333" textLength="14.2" lengthAdjust="spacingAndGlyphs" stroke="#333" stroke-width="0.12">1500</text>
<line x1="286" y1="434.2" x2="286" y2="436.4" stroke="#231f20" stroke-width="0.7" />
<text x="286" y="445" font-size="6.8" text-anchor="middle" fill="#333" textLength="14.2" lengthAdjust="spacingAndGlyphs" stroke="#333" stroke-width="0.12">2000</text>
<line x1="308.85" y1="434.2" x2="308.85" y2="436.4" stroke="#231f20" stroke-width="0.7" />
<text x="308.85" y="445" font-size="6.8" text-anchor="middle" fill="#333" textLength="14.2" lengthAdjust="spacingAndGlyphs" stroke="#333" stroke-width="0.12">2500</text>
<line x1="331.7" y1="434.2" x2="331.7" y2="436.4" stroke="#231f20" stroke-width="0.7" />
<text x="331.7" y="445" font-size="6.8" text-anchor="middle" fill="#333" textLength="14.2" lengthAdjust="spacingAndGlyphs" stroke="#333" stroke-width="0.12">3000</text>
<text x="271.3" y="458.1" font-size="7.6" text-anchor="middle" fill="#333" textLength="40" lengthAdjust="spacingAndGlyphs" stroke="#333" stroke-width="0.12">Days in study</text>
<text x="174.8" y="382.7" font-size="7" text-anchor="middle" fill="#333" transform="rotate(-90 174.8 382.7)" textLength="45.5" lengthAdjust="spacingAndGlyphs" stroke="#333" stroke-width="0.12">Overall survival</text>
<path d="M194.6 335.3 L213 335.3 L213 335.6 L214 335.6 L214 337.5 L220.9 337.5 L220.9 337.5 L221.5 337.5 L221.5 341.3 L223.4 341.3 L223.4 341.3 L223.8 341.3 L223.8 346.4 L224.7 346.4 L224.7 348.9 L236 348.9 L236 348.9 L236.7 348.9 L236.7 352 L239.8 352 L239.8 357 L241.3 357 L241.3 363.9 L242.3 363.9 L242.3 363.9 L244.8 363.9 L244.8 370.3 L246.1 370.3 L246.1 373.4 L253.8 373.4 L253.8 373.4 L256.4 373.4 L256.4 382.8 L266.4 382.8 L266.4 382.8 L267 382.8 L267 389 L268.6 389 L268.6 389 L270.2 389 L270.2 394.1 L272 394.1 L272 394.1 L272.3 394.1 L272.3 395.7 L275.9 395.7 L275.9 395.7 L276.3 395.7 L276.3 397.7 L279.5 397.7 L279.5 397.7 L279.9 397.7 L279.9 403.7 L292.9 403.7 L292.9 403.7 L294.9 403.7 L294.9 409.6 L346.6 409.6 L346.6 409.6" fill="none" stroke="#4cb748" stroke-width="1.1" />
<path d="M194.6 335.3 L211.9 335.3 L211.9 335.6 L214.6 335.6 L214.6 338.8 L223.4 338.8 L223.4 339.4 L228.5 339.4 L228.5 341.3 L233.5 341.3 L233.5 343.2 L237.3 343.2 L237.3 345.1 L240 345.1 L240 346.3 L243.8 346.3 L243.8 347.6 L247.5 347.6 L247.5 350.1 L252.6 350.1 L252.6 352.6 L256.4 352.6 L256.4 355.8 L258.9 355.8 L258.9 358.3 L262 358.3 L262 361.4 L273.3 361.4 L273.3 361.4 L274.6 361.4 L274.6 363.9 L295.3 363.9 L295.3 363.9 L296 363.9 L296 366.4 L301.8 366.4 L301.8 366.4 L303.8 366.4 L303.8 370.6 L309.8 370.6 L309.8 372.6 L321.7 372.6 L321.7 374.6 L323.7 374.6 L323.7 378.4 L346.6 378.4 L346.6 378.4" fill="none" stroke="#f6a623" stroke-width="1.1" />
<path d="M194.6 335.3 L211.9 335.3 L211.9 335.6 L214 335.6 L214 339.3 L248.8 339.3 L248.8 339.3 L249.5 339.3 L249.5 344 L254.5 344 L254.5 344 L255.7 344 L255.7 347.6 L258.2 347.6 L258.2 353.9 L260.1 353.9 L260.1 358.3 L262 358.3 L262 362 L275.8 362 L275.8 362 L276.5 362 L276.5 371.5 L290.3 371.5 L290.3 371.5 L290.9 371.5 L290.9 375.8 L302.8 375.8 L302.8 375.9 L303.4 375.9 L303.4 380.8 L322.7 380.8 L322.7 380.8 L323.3 380.8 L323.3 390.4 L346.6 390.4 L346.6 390.4" fill="none" stroke="#c8174a" stroke-width="1.1" />
<path d="M194.6 335.3 L197 335.3 L197 335.3 L200.5 335.3 L200.5 335.9 L204.6 335.9 L204.6 336.9 L206.5 336.9 L206.5 338.1 L208.4 338.1 L208.4 339.4 L211 339.4 L211 341 L213.4 341 L213.4 342.6 L215.3 342.6 L215.3 344.1 L217.2 344.1 L217.2 345.7 L219 345.7 L219 347.9 L220.9 347.9 L220.9 350.1 L222.8 350.1 L222.8 352 L224.7 352 L224.7 353.9 L226.6 353.9 L226.6 355.2 L228.5 355.2 L228.5 356.4 L231 356.4 L231 358 L233.5 358 L233.5 359.6 L235.4 359.6 L235.4 361.2 L237.3 361.2 L237.3 362.7 L239.8 362.7 L239.8 364.6 L242.3 364.6 L242.3 366.5 L244.2 366.5 L244.2 367.8 L246.1 367.8 L246.1 369 L248.6 369 L248.6 369.7 L251.1 369.7 L251.1 370.3 L255 370.3 L255 371.5 L258.9 371.5 L258.9 372.1 L262 372.1 L262 372.8 L265.2 372.8 L265.2 373.4 L268.3 373.4 L268.3 374.4 L271.4 374.4 L271.4 375.3 L274.5 375.3 L274.5 376.5 L277.7 376.5 L277.7 377.8 L281 377.8 L281 378.4 L284 378.4 L284 379 L290.3 379 L290.3 379.7 L294.1 379.7 L294.1 382.2 L296.6 382.2 L296.6 383.4 L305.8 383.4 L305.8 384.7 L311.8 384.7 L311.8 386.7 L317.8 386.7 L317.8 388.7 L321.8 388.7 L321.8 389.9 L325.7 389.9 L325.7 391.1 L346.6 391.1 L346.6 391.2" fill="none" stroke="#1f4a7c" stroke-width="1.3" />
<line x1="300" y1="364" x2="300" y2="367.2" stroke="#f6a623" stroke-width="0.6" />
<line x1="313" y1="371" x2="313" y2="374.2" stroke="#f6a623" stroke-width="0.6" />
<line x1="318" y1="372" x2="318" y2="375.2" stroke="#f6a623" stroke-width="0.6" />
<line x1="325" y1="376.8" x2="325" y2="380" stroke="#f6a623" stroke-width="0.6" />
<line x1="329" y1="376.8" x2="329" y2="380" stroke="#f6a623" stroke-width="0.6" />
<line x1="333" y1="376.8" x2="333" y2="380" stroke="#f6a623" stroke-width="0.6" />
<line x1="336" y1="376.8" x2="336" y2="380" stroke="#f6a623" stroke-width="0.6" />
<circle cx="332" cy="378.4" r="1.4" fill="#f6a623" />
<circle cx="334.5" cy="378.4" r="1.4" fill="#f6a623" />
<line x1="286" y1="370" x2="286" y2="373.2" stroke="#c8174a" stroke-width="0.6" />
<line x1="312" y1="379.2" x2="312" y2="382.4" stroke="#c8174a" stroke-width="0.6" />
<line x1="340" y1="388.8" x2="340" y2="392" stroke="#c8174a" stroke-width="0.6" />
<circle cx="302" cy="383.7" r="1.2" fill="#1f4a7c" />
<circle cx="304" cy="384.3" r="1.2" fill="#1f4a7c" />
<circle cx="306" cy="385" r="1.2" fill="#1f4a7c" />
<circle cx="316" cy="388.3" r="1.2" fill="#1f4a7c" />
<circle cx="320" cy="389.4" r="1.2" fill="#1f4a7c" />
<circle cx="328" cy="391.1" r="1.2" fill="#1f4a7c" />
<circle cx="330" cy="391.1" r="1.2" fill="#1f4a7c" />
<circle cx="332" cy="391.1" r="1.2" fill="#1f4a7c" />
<line x1="318" y1="408" x2="318" y2="411.2" stroke="#4cb748" stroke-width="0.6" />
<line x1="327" y1="408" x2="327" y2="411.2" stroke="#4cb748" stroke-width="0.6" />
<line x1="328.5" y1="408" x2="328.5" y2="411.2" stroke="#4cb748" stroke-width="0.6" />
<circle cx="327.8" cy="409.6" r="1.2" fill="#4cb748" />
<line x1="198" y1="394.7" x2="206.9" y2="394.7" stroke="#f6a623" stroke-width="1.0" />
<text x="209.9" y="397" font-size="6.6" fill="#333" textLength="32" lengthAdjust="spacingAndGlyphs" stroke="#333" stroke-width="0.12">AK2-Low/PI</text>
<line x1="198" y1="404.6" x2="206.9" y2="404.6" stroke="#c8174a" stroke-width="1.0" />
<text x="209.9" y="406.9" font-size="6.6" fill="#333" textLength="44" lengthAdjust="spacingAndGlyphs" stroke="#333" stroke-width="0.12">AK2-Low/NO PI</text>
<line x1="198" y1="414.5" x2="206.9" y2="414.5" stroke="#1f4a7c" stroke-width="1.0" />
<text x="209.9" y="416.8" font-size="6.6" fill="#333" textLength="35" lengthAdjust="spacingAndGlyphs" stroke="#333" stroke-width="0.12">AK2-High/PI</text>
<line x1="198" y1="424.4" x2="206.9" y2="424.4" stroke="#4cb748" stroke-width="1.0" />
<text x="209.9" y="426.7" font-size="6.6" fill="#333" textLength="47" lengthAdjust="spacingAndGlyphs" stroke="#333" stroke-width="0.12">AK2-High/NO PI</text>
<text x="363.9" y="324.7" font-size="11" font-weight="bold" fill="#000">K</text>
<line x1="394.7" y1="336" x2="394.7" y2="434.4" stroke="#111" stroke-width="1.0" />
<line x1="394.7" y1="434.4" x2="469.6" y2="434.4" stroke="#111" stroke-width="1.0" />
<line x1="392.5" y1="434.4" x2="394.7" y2="434.4" stroke="#231f20" stroke-width="0.7" />
<text x="390.8" y="436.6" font-size="6.4" text-anchor="end" fill="#333" textLength="3.5" lengthAdjust="spacingAndGlyphs" stroke="#333" stroke-width="0.12">0</text>
<line x1="392.5" y1="402.7" x2="394.7" y2="402.7" stroke="#231f20" stroke-width="0.7" />
<text x="390.8" y="404.9" font-size="6.4" text-anchor="end" fill="#333" textLength="13.6" lengthAdjust="spacingAndGlyphs" stroke="#333" stroke-width="0.12">1000</text>
<line x1="392.5" y1="371" x2="394.7" y2="371" stroke="#231f20" stroke-width="0.7" />
<text x="390.8" y="373.2" font-size="6.4" text-anchor="end" fill="#333" textLength="13.6" lengthAdjust="spacingAndGlyphs" stroke="#333" stroke-width="0.12">2000</text>
<line x1="392.5" y1="339.3" x2="394.7" y2="339.3" stroke="#231f20" stroke-width="0.7" />
<text x="390.8" y="341.5" font-size="6.4" text-anchor="end" fill="#333" textLength="13.6" lengthAdjust="spacingAndGlyphs" stroke="#333" stroke-width="0.12">3000</text>
<line x1="416.6" y1="434.4" x2="416.6" y2="436.4" stroke="#231f20" stroke-width="0.7" />
<line x1="448.6" y1="434.4" x2="448.6" y2="436.4" stroke="#231f20" stroke-width="0.7" />
<text x="369.7" y="385.4" font-size="6.6" text-anchor="middle" fill="#333" transform="rotate(-90 369.7 385.4)" textLength="58" lengthAdjust="spacingAndGlyphs" stroke="#333" stroke-width="0.12">Days to progression</text>
<path d="M416.6 344.5 V338.1 H448.3 V341" fill="none" stroke="#333" stroke-width="0.6" />
<text x="433" y="335" font-size="6.0" text-anchor="middle" fill="#333" stroke="#333" stroke-width="0.12"><tspan font-style="italic">P</tspan> = .004</text>
<text x="420" y="444.5" font-size="6.2" text-anchor="end" fill="#333" transform="rotate(-45 420 444.5)" textLength="28" lengthAdjust="spacingAndGlyphs" stroke="#333" stroke-width="0.12">All Others</text>
<text x="452" y="444.3" font-size="6.2" text-anchor="end" fill="#333" transform="rotate(-45 452 444.3)" textLength="27" lengthAdjust="spacingAndGlyphs" stroke="#333" stroke-width="0.12">AK2-High</text>
<circle cx="416.8" cy="420.95" r="1" fill="#1d4e89" />
<circle cx="416.8" cy="429.08" r="1" fill="#1d4e89" />
<circle cx="416.8" cy="433.19" r="1" fill="#1d4e89" />
<circle cx="414.75" cy="421.42" r="1" fill="#1d4e89" />
<circle cx="416.8" cy="401.28" r="1" fill="#1d4e89" />
<circle cx="414.85" cy="428.29" r="1" fill="#1d4e89" />
<circle cx="414.73" cy="401.64" r="1" fill="#1d4e89" />
<circle cx="417.59" cy="403.23" r="1" fill="#1d4e89" />
<circle cx="416.8" cy="392.75" r="1" fill="#1d4e89" />
<circle cx="416.8" cy="416.74" r="1" fill="#1d4e89" />
<circle cx="416.8" cy="409.54" r="1" fill="#1d4e89" />
<circle cx="416.8" cy="414.25" r="1" fill="#1d4e89" />
<circle cx="414.73" cy="393.09" r="1" fill="#1d4e89" />
<circle cx="416.8" cy="379.16" r="1" fill="#1d4e89" />
<circle cx="416.8" cy="398.74" r="1" fill="#1d4e89" />
<circle cx="415.16" cy="412.94" r="1" fill="#1d4e89" />
<circle cx="414.91" cy="415.16" r="1" fill="#1d4e89" />
<circle cx="414.73" cy="409.92" r="1" fill="#1d4e89" />
<circle cx="416.8" cy="407.24" r="1" fill="#1d4e89" />
<circle cx="416.8" cy="382.74" r="1" fill="#1d4e89" />
<circle cx="415.54" cy="403.65" r="1" fill="#1d4e89" />
<circle cx="417.51" cy="427.1" r="1" fill="#1d4e89" />
<circle cx="418.84" cy="420.47" r="1" fill="#1d4e89" />
<circle cx="419.57" cy="403.93" r="1" fill="#1d4e89" />
<circle cx="415.26" cy="431.76" r="1" fill="#1d4e89" />
<circle cx="418.26" cy="411.05" r="1" fill="#1d4e89" />
<circle cx="413.23" cy="403.11" r="1" fill="#1d4e89" />
<circle cx="416.8" cy="423.13" r="1" fill="#1d4e89" />
<circle cx="415.87" cy="390.86" r="1" fill="#1d4e89" />
<circle cx="418.87" cy="433.57" r="1" fill="#1d4e89" />
<circle cx="415.71" cy="419.16" r="1" fill="#1d4e89" />
<circle cx="418.54" cy="400.11" r="1" fill="#1d4e89" />
<circle cx="418.89" cy="422.92" r="1" fill="#1d4e89" />
<circle cx="413.02" cy="420.24" r="1" fill="#1d4e89" />
<circle cx="421.17" cy="402.57" r="1" fill="#1d4e89" />
<circle cx="414.74" cy="406.84" r="1" fill="#1d4e89" />
<circle cx="416.8" cy="396.09" r="1" fill="#1d4e89" />
<circle cx="416.8" cy="347.74" r="1" fill="#1d4e89" />
<circle cx="415.28" cy="380.61" r="1" fill="#1d4e89" />
<circle cx="416.07" cy="384.71" r="1" fill="#1d4e89" />
<circle cx="415.98" cy="425.66" r="1" fill="#1d4e89" />
<circle cx="418.24" cy="394.56" r="1" fill="#1d4e89" />
<circle cx="418.39" cy="381.37" r="1" fill="#1d4e89" />
<circle cx="418.74" cy="417.55" r="1" fill="#1d4e89" />
<circle cx="421.55" cy="404.63" r="1" fill="#1d4e89" />
<circle cx="419.4" cy="428" r="1" fill="#1d4e89" />
<circle cx="417.74" cy="405.36" r="1" fill="#1d4e89" />
<circle cx="413.4" cy="405.22" r="1" fill="#1d4e89" />
<circle cx="418.7" cy="391.86" r="1" fill="#1d4e89" />
<circle cx="413.91" cy="426.04" r="1" fill="#1d4e89" />
<circle cx="416.8" cy="368.04" r="1" fill="#1d4e89" />
<circle cx="420.14" cy="411.99" r="1" fill="#1d4e89" />
<circle cx="414.79" cy="423.73" r="1" fill="#1d4e89" />
<circle cx="411.38" cy="405.76" r="1" fill="#1d4e89" />
<circle cx="412.81" cy="428.76" r="1" fill="#1d4e89" />
<circle cx="414.97" cy="397.13" r="1" fill="#1d4e89" />
<circle cx="420.65" cy="429.69" r="1" fill="#1d4e89" />
<circle cx="412.82" cy="400.77" r="1" fill="#1d4e89" />
<circle cx="418.73" cy="383.57" r="1" fill="#1d4e89" />
<circle cx="420.86" cy="423.64" r="1" fill="#1d4e89" />
<circle cx="419.52" cy="398.25" r="1" fill="#1d4e89" />
<circle cx="420.51" cy="426.22" r="1" fill="#1d4e89" />
<circle cx="416.8" cy="351.91" r="1" fill="#1d4e89" />
<circle cx="416.8" cy="388.07" r="1" fill="#1d4e89" />
<circle cx="412.64" cy="424.37" r="1" fill="#1d4e89" />
<circle cx="419.42" cy="415.56" r="1" fill="#1d4e89" />
<circle cx="412.73" cy="410.53" r="1" fill="#1d4e89" />
<circle cx="420.66" cy="421.53" r="1" fill="#1d4e89" />
<circle cx="420.15" cy="393.68" r="1" fill="#1d4e89" />
<circle cx="413.53" cy="395.61" r="1" fill="#1d4e89" />
<circle cx="410.02" cy="404.16" r="1" fill="#1d4e89" />
<circle cx="413.44" cy="432.81" r="1" fill="#1d4e89" />
<circle cx="418.85" cy="407.72" r="1" fill="#1d4e89" />
<circle cx="416.8" cy="362.41" r="1" fill="#1d4e89" />
<circle cx="418.85" cy="378.7" r="1" fill="#1d4e89" />
<circle cx="412.92" cy="415.84" r="1" fill="#1d4e89" />
<circle cx="421.52" cy="415.43" r="1" fill="#1d4e89" />
<circle cx="412.2" cy="413.87" r="1" fill="#1d4e89" />
<circle cx="421.48" cy="410.37" r="1" fill="#1d4e89" />
<circle cx="420.61" cy="418.5" r="1" fill="#1d4e89" />
<circle cx="421.02" cy="396.78" r="1" fill="#1d4e89" />
<circle cx="413.1" cy="398.07" r="1" fill="#1d4e89" />
<circle cx="422.15" cy="412.62" r="1" fill="#1d4e89" />
<circle cx="411.31" cy="408.98" r="1" fill="#1d4e89" />
<circle cx="420.63" cy="400.37" r="1" fill="#1d4e89" />
<circle cx="411.09" cy="399.59" r="1" fill="#1d4e89" />
<circle cx="414.48" cy="383.34" r="1" fill="#1d4e89" />
<circle cx="413.83" cy="418.21" r="1" fill="#1d4e89" />
<circle cx="412.85" cy="392.15" r="1" fill="#1d4e89" />
<circle cx="416.8" cy="375.89" r="1" fill="#1d4e89" />
<circle cx="411.39" cy="422.69" r="1" fill="#1d4e89" />
<circle cx="411.44" cy="395.39" r="1" fill="#1d4e89" />
<circle cx="410.99" cy="416.67" r="1" fill="#1d4e89" />
<circle cx="410.29" cy="410.82" r="1" fill="#1d4e89" />
<circle cx="420.01" cy="385.23" r="1" fill="#1d4e89" />
<circle cx="414.83" cy="388.8" r="1" fill="#1d4e89" />
<circle cx="422.24" cy="393.89" r="1" fill="#1d4e89" />
<circle cx="423.65" cy="404.76" r="1" fill="#1d4e89" />
<circle cx="417.95" cy="424.93" r="1" fill="#1d4e89" />
<circle cx="423.1" cy="397.08" r="1" fill="#1d4e89" />
<circle cx="418.46" cy="389.35" r="1" fill="#1d4e89" />
<circle cx="410.25" cy="414.64" r="1" fill="#1d4e89" />
<circle cx="422.39" cy="425.28" r="1" fill="#1d4e89" />
<circle cx="424.03" cy="413.54" r="1" fill="#1d4e89" />
<circle cx="408.56" cy="413.39" r="1" fill="#1d4e89" />
<circle cx="424.19" cy="398.87" r="1" fill="#1d4e89" />
<circle cx="420.85" cy="407.09" r="1" fill="#1d4e89" />
<circle cx="420.55" cy="432.31" r="1" fill="#1d4e89" />
<circle cx="420.69" cy="391.17" r="1" fill="#1d4e89" />
<circle cx="422.65" cy="408.17" r="1" fill="#1d4e89" />
<circle cx="410.72" cy="397.52" r="1" fill="#1d4e89" />
<circle cx="409.71" cy="394.2" r="1" fill="#1d4e89" />
<circle cx="411.6" cy="390.46" r="1" fill="#1d4e89" />
<circle cx="423" cy="401.53" r="1" fill="#1d4e89" />
<circle cx="409.05" cy="399.09" r="1" fill="#1d4e89" />
<circle cx="418.45" cy="430.37" r="1" fill="#1d4e89" />
<circle cx="424.12" cy="394.82" r="1" fill="#1d4e89" />
<circle cx="422.54" cy="417.27" r="1" fill="#1d4e89" />
<circle cx="423.82" cy="411.35" r="1" fill="#1d4e89" />
<circle cx="410.58" cy="424.74" r="1" fill="#1d4e89" />
<circle cx="411.3" cy="402.27" r="1" fill="#1d4e89" />
<circle cx="420.38" cy="388.49" r="1" fill="#1d4e89" />
<circle cx="409.02" cy="406" r="1" fill="#1d4e89" />
<circle cx="409.24" cy="408.61" r="1" fill="#1d4e89" />
<circle cx="422.36" cy="428.47" r="1" fill="#1d4e89" />
<circle cx="425.65" cy="393.38" r="1" fill="#1d4e89" />
<circle cx="409.03" cy="396.27" r="1" fill="#1d4e89" />
<circle cx="416.8" cy="356.87" r="1" fill="#1d4e89" />
<circle cx="411.16" cy="427.45" r="1" fill="#1d4e89" />
<circle cx="422.29" cy="419.76" r="1" fill="#1d4e89" />
<circle cx="412.57" cy="430.9" r="1" fill="#1d4e89" />
<circle cx="422.2" cy="389.71" r="1" fill="#1d4e89" />
<circle cx="425.99" cy="399.96" r="1" fill="#1d4e89" />
<circle cx="416.1" cy="366.06" r="1" fill="#1d4e89" />
<circle cx="411.02" cy="419.6" r="1" fill="#1d4e89" />
<circle cx="413.3" cy="387.37" r="1" fill="#1d4e89" />
<circle cx="425.04" cy="406.33" r="1" fill="#1d4e89" />
<circle cx="422.31" cy="431.17" r="1" fill="#1d4e89" />
<circle cx="422.73" cy="421.88" r="1" fill="#1d4e89" />
<circle cx="409.33" cy="422.29" r="1" fill="#1d4e89" />
<circle cx="411.03" cy="432.33" r="1" fill="#1d4e89" />
<circle cx="424.04" cy="423.98" r="1" fill="#1d4e89" />
<circle cx="409.37" cy="418.01" r="1" fill="#1d4e89" />
<circle cx="424.41" cy="416.31" r="1" fill="#1d4e89" />
<circle cx="425.92" cy="417.76" r="1" fill="#1d4e89" />
<circle cx="425.78" cy="412.39" r="1" fill="#1d4e89" />
<circle cx="407.3" cy="407.82" r="1" fill="#1d4e89" />
<circle cx="424.37" cy="431.57" r="1" fill="#1d4e89" />
<circle cx="409.22" cy="402" r="1" fill="#1d4e89" />
<circle cx="409.52" cy="390.22" r="1" fill="#1d4e89" />
<circle cx="422.28" cy="387.59" r="1" fill="#1d4e89" />
<circle cx="417.95" cy="386.31" r="1" fill="#1d4e89" />
<circle cx="412.19" cy="385.58" r="1" fill="#1d4e89" />
<circle cx="410.33" cy="430.35" r="1" fill="#1d4e89" />
<circle cx="424.3" cy="427.67" r="1" fill="#1d4e89" />
<circle cx="408.27" cy="429.95" r="1" fill="#1d4e89" />
<circle cx="407.2" cy="411.79" r="1" fill="#1d4e89" />
<circle cx="415.94" cy="358.79" r="1" fill="#1d4e89" />
<circle cx="409.24" cy="426.61" r="1" fill="#1d4e89" />
<circle cx="424.45" cy="420.68" r="1" fill="#1d4e89" />
<circle cx="416.8" cy="372.35" r="1" fill="#1d4e89" />
<circle cx="426.54" cy="414.35" r="1" fill="#1d4e89" />
<circle cx="410.14" cy="386.05" r="1" fill="#1d4e89" />
<circle cx="407.56" cy="419.07" r="1" fill="#1d4e89" />
<circle cx="424.18" cy="386.7" r="1" fill="#1d4e89" />
<circle cx="424.99" cy="409.61" r="1" fill="#1d4e89" />
<circle cx="426.95" cy="408.84" r="1" fill="#1d4e89" />
<circle cx="423.15" cy="391.58" r="1" fill="#1d4e89" />
<circle cx="448.8" cy="431.42" r="1" fill="#e2288b" />
<circle cx="448.8" cy="415.95" r="1" fill="#e2288b" />
<circle cx="448.8" cy="395.16" r="1" fill="#e2288b" />
<circle cx="448.8" cy="357.59" r="1" fill="#e2288b" />
<circle cx="448.8" cy="413.5" r="1" fill="#e2288b" />
<circle cx="448.8" cy="426.67" r="1" fill="#e2288b" />
<circle cx="446.86" cy="425.86" r="1" fill="#e2288b" />
<circle cx="446.99" cy="412.43" r="1" fill="#e2288b" />
<circle cx="448.8" cy="405.07" r="1" fill="#e2288b" />
<circle cx="450.55" cy="412.33" r="1" fill="#e2288b" />
<circle cx="451.39" cy="414.25" r="1" fill="#e2288b" />
<circle cx="446.97" cy="414.92" r="1" fill="#e2288b" />
<circle cx="448.8" cy="387.6" r="1" fill="#e2288b" />
<circle cx="448.8" cy="409.38" r="1" fill="#e2288b" />
<circle cx="448.8" cy="348.27" r="1" fill="#e2288b" />
<circle cx="447.44" cy="428.27" r="1" fill="#e2288b" />
<circle cx="446.71" cy="431.19" r="1" fill="#e2288b" />
<circle cx="444.95" cy="415.51" r="1" fill="#e2288b" />
<circle cx="448.8" cy="392.8" r="1" fill="#e2288b" />
<circle cx="447.17" cy="408.06" r="1" fill="#e2288b" />
<circle cx="450.45" cy="425.37" r="1" fill="#e2288b" />
<circle cx="452.45" cy="426.03" r="1" fill="#e2288b" />
<circle cx="448.8" cy="423.44" r="1" fill="#e2288b" />
<circle cx="448.8" cy="384.75" r="1" fill="#e2288b" />
<circle cx="448.8" cy="401.89" r="1" fill="#e2288b" />
<circle cx="446.71" cy="387.44" r="1" fill="#e2288b" />
<circle cx="448.21" cy="399.88" r="1" fill="#e2288b" />
<circle cx="450.32" cy="432.87" r="1" fill="#e2288b" />
<circle cx="447.71" cy="389.39" r="1" fill="#e2288b" />
<circle cx="446.73" cy="423.11" r="1" fill="#e2288b" />
<circle cx="450.55" cy="422.28" r="1" fill="#e2288b" />
<circle cx="448.8" cy="420.94" r="1" fill="#e2288b" />
<circle cx="448.8" cy="374.37" r="1" fill="#e2288b" />
<circle cx="445.05" cy="424.8" r="1" fill="#e2288b" />
<circle cx="446.83" cy="402.62" r="1" fill="#e2288b" />
<circle cx="452.64" cy="422.05" r="1" fill="#e2288b" />
<circle cx="450.84" cy="409.89" r="1" fill="#e2288b" />
<circle cx="449.42" cy="428.94" r="1" fill="#e2288b" />
<circle cx="448.8" cy="344.91" r="1" fill="#e2288b" />
<circle cx="451.13" cy="430.17" r="1" fill="#e2288b" />
<circle cx="450.16" cy="391.2" r="1" fill="#e2288b" />
<circle cx="450.84" cy="401.4" r="1" fill="#e2288b" />
<circle cx="453.48" cy="414.03" r="1" fill="#e2288b" />
<circle cx="448.8" cy="360.78" r="1" fill="#e2288b" />
<circle cx="447.24" cy="417.35" r="1" fill="#e2288b" />
<circle cx="445.55" cy="429.18" r="1" fill="#e2288b" />
<circle cx="444.92" cy="412.8" r="1" fill="#e2288b" />
<circle cx="445.63" cy="421.32" r="1" fill="#e2288b" />
<circle cx="446.15" cy="400.27" r="1" fill="#e2288b" />
<circle cx="454.02" cy="423.63" r="1" fill="#e2288b" />
<circle cx="445.21" cy="408.83" r="1" fill="#e2288b" />
<circle cx="453.22" cy="430" r="1" fill="#e2288b" />
<circle cx="450.56" cy="403.92" r="1" fill="#e2288b" />
<circle cx="452.83" cy="400.71" r="1" fill="#e2288b" />
<circle cx="449.95" cy="419.18" r="1" fill="#e2288b" />
<circle cx="450.74" cy="385.56" r="1" fill="#e2288b" />
<circle cx="452.86" cy="410.46" r="1" fill="#e2288b" />
<circle cx="449.88" cy="406.86" r="1" fill="#e2288b" />
<circle cx="447.28" cy="419.49" r="1" fill="#e2288b" />
<circle cx="451.98" cy="407" r="1" fill="#e2288b" />
<circle cx="444.49" cy="426.82" r="1" fill="#e2288b" />
<circle cx="451.74" cy="418.09" r="1" fill="#e2288b" />
<circle cx="450.14" cy="399.05" r="1" fill="#e2288b" />
<circle cx="454.52" cy="426.37" r="1" fill="#e2288b" />
<circle cx="443.6" cy="411.17" r="1" fill="#e2288b" />
<circle cx="446.77" cy="405.6" r="1" fill="#e2288b" />
<circle cx="453.94" cy="408.67" r="1" fill="#e2288b" />
<circle cx="454.41" cy="411.88" r="1" fill="#e2288b" />
<circle cx="446.95" cy="391.82" r="1" fill="#e2288b" />
<circle cx="442.99" cy="424.39" r="1" fill="#e2288b" />
<circle cx="455.52" cy="410.1" r="1" fill="#e2288b" />
<circle cx="456.07" cy="424.11" r="1" fill="#e2288b" />
<circle cx="441.54" cy="410.75" r="1" fill="#e2288b" />
<circle cx="443.6" cy="420.79" r="1" fill="#e2288b" />
<circle cx="444.46" cy="401.52" r="1" fill="#e2288b" />
<circle cx="454.2" cy="420.64" r="1" fill="#e2288b" />
<circle cx="443.9" cy="430.49" r="1" fill="#e2288b" />
<circle cx="454.92" cy="400.89" r="1" fill="#e2288b" />
<circle cx="445.34" cy="418.7" r="1" fill="#e2288b" />
<circle cx="448.12" cy="433.41" r="1" fill="#e2288b" />
<circle cx="448.8" cy="341.03" r="1" fill="#e2288b" />
<circle cx="452.2" cy="398.63" r="1" fill="#e2288b" />
<circle cx="447.39" cy="383.19" r="1" fill="#e2288b" />
<circle cx="441.08" cy="425.26" r="1" fill="#e2288b" />
<circle cx="444.4" cy="399.12" r="1" fill="#e2288b" />
<circle cx="443.15" cy="408.45" r="1" fill="#e2288b" />
<circle cx="444.99" cy="403.62" r="1" fill="#e2288b" />
<circle cx="451.21" cy="427.84" r="1" fill="#e2288b" />
<circle cx="453.14" cy="416.52" r="1" fill="#e2288b" />
<circle cx="452.36" cy="432.37" r="1" fill="#e2288b" />
<circle cx="441.73" cy="421.74" r="1" fill="#e2288b" />
<circle cx="442.56" cy="418.96" r="1" fill="#e2288b" />
<circle cx="455.81" cy="407.7" r="1" fill="#e2288b" />
<circle cx="455.27" cy="429.54" r="1" fill="#e2288b" />
<circle cx="457.55" cy="409.56" r="1" fill="#e2288b" />
<circle cx="448.36" cy="397.21" r="1" fill="#e2288b" />
<circle cx="447.45" cy="349.88" r="1" fill="#e2288b" />
<circle cx="446.99" cy="394.09" r="1" fill="#e2288b" />
<circle cx="452.52" cy="404.67" r="1" fill="#e2288b" />
<circle cx="441.36" cy="407.35" r="1" fill="#e2288b" />
<circle cx="442.86" cy="415.36" r="1" fill="#e2288b" />
<circle cx="455.18" cy="416.01" r="1" fill="#e2288b" />
<circle cx="442.41" cy="427.13" r="1" fill="#e2288b" />
<circle cx="441.84" cy="430.87" r="1" fill="#e2288b" />
<circle cx="450.69" cy="394.25" r="1" fill="#e2288b" />
<circle cx="456.34" cy="427.42" r="1" fill="#e2288b" />
<circle cx="439.93" cy="422.83" r="1" fill="#e2288b" />
<circle cx="445.19" cy="432.63" r="1" fill="#e2288b" />
<circle cx="453.8" cy="418.53" r="1" fill="#e2288b" />
<circle cx="449.36" cy="382.46" r="1" fill="#e2288b" />
<circle cx="458.14" cy="424.47" r="1" fill="#e2288b" />
<circle cx="454.55" cy="431.62" r="1" fill="#e2288b" />
<circle cx="454.14" cy="403.34" r="1" fill="#e2288b" />
<circle cx="441.43" cy="416.89" r="1" fill="#e2288b" />
<circle cx="448.8" cy="379.79" r="1" fill="#e2288b" />
<circle cx="443.15" cy="433.1" r="1" fill="#e2288b" />
<circle cx="442.95" cy="404.13" r="1" fill="#e2288b" />
<circle cx="444.9" cy="406.56" r="1" fill="#e2288b" />
<circle cx="456.62" cy="431.97" r="1" fill="#e2288b" />
<circle cx="441.11" cy="428.78" r="1" fill="#e2288b" />
<circle cx="442.81" cy="413.11" r="1" fill="#e2288b" />
<circle cx="454.27" cy="405.82" r="1" fill="#e2288b" />
<circle cx="457.18" cy="416.65" r="1" fill="#e2288b" />
<circle cx="439.48" cy="417.69" r="1" fill="#e2288b" />
<circle cx="455.59" cy="413.62" r="1" fill="#e2288b" />
<circle cx="439.5" cy="411.27" r="1" fill="#e2288b" />
<circle cx="446.3" cy="397.61" r="1" fill="#e2288b" />
<circle cx="442.36" cy="399.62" r="1" fill="#e2288b" />
<circle cx="458.32" cy="428.14" r="1" fill="#e2288b" />
<circle cx="456.89" cy="411.7" r="1" fill="#e2288b" />
<circle cx="440.91" cy="414.57" r="1" fill="#e2288b" />
<circle cx="456.33" cy="405.39" r="1" fill="#e2288b" />
<circle cx="458.99" cy="417.72" r="1" fill="#e2288b" />
<circle cx="450.41" cy="396.73" r="1" fill="#e2288b" />
<circle cx="456.18" cy="419.95" r="1" fill="#e2288b" />
<circle cx="439.64" cy="406.14" r="1" fill="#e2288b" />
<circle cx="457.35" cy="422.46" r="1" fill="#e2288b" />
<circle cx="451.57" cy="389.64" r="1" fill="#e2288b" />
<circle cx="448.8" cy="377.01" r="1" fill="#e2288b" />
<circle cx="448.8" cy="371.81" r="1" fill="#e2288b" />
<circle cx="441.7" cy="402.43" r="1" fill="#e2288b" />
<circle cx="448.8" cy="352.84" r="1" fill="#e2288b" />
<circle cx="456.21" cy="402.96" r="1" fill="#e2288b" />
<circle cx="440.16" cy="420.35" r="1" fill="#e2288b" />
<line x1="403.3" y1="409.4" x2="430.1" y2="409.4" stroke="#222" stroke-width="0.9" />
<line x1="436" y1="416.3" x2="461.7" y2="416.3" stroke="#222" stroke-width="0.9" />
<rect x="0" y="0" width="520" height="1" fill="#555"/>
<rect x="0" y="0" width="1" height="477" fill="#6e6e6e"/>
<rect x="519" y="0" width="1" height="477" fill="#3c3c3c"/>
<rect x="0" y="476" width="520" height="1" fill="#333"/>
</svg>
</body></html>
